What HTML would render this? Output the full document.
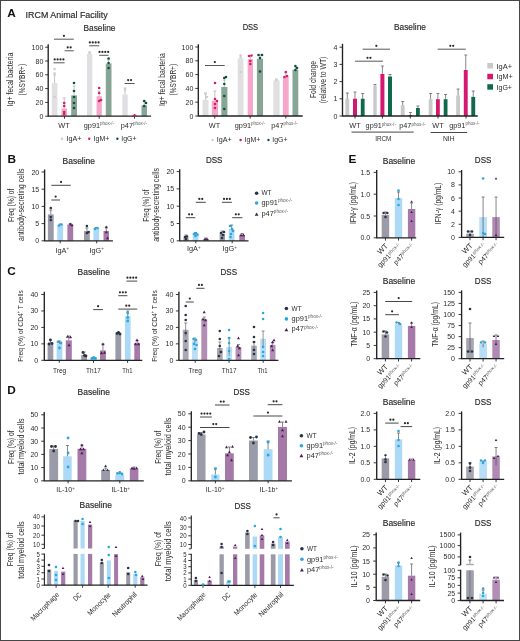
<!DOCTYPE html>
<html><head><meta charset="utf-8"><style>
html,body{margin:0;padding:0;background:#fff;}
svg{display:block;font-family:"Liberation Sans",sans-serif;will-change:transform;}
</style></head><body>
<svg width="520" height="641" viewBox="0 0 520 641">
<rect x="0" y="0" width="520" height="641" fill="#fff"/>
<text x="7.2" y="16.8" font-size="11.8" font-weight="bold" fill="#111">A</text>
<text x="25.6" y="18" font-size="9.4" textLength="82" lengthAdjust="spacingAndGlyphs" fill="#2b2b2b" stroke="#2b2b2b" stroke-width="0.18">IRCM Animal Facility</text>
<text x="99.5" y="30.7" font-size="9.0" text-anchor="middle" textLength="32" lengthAdjust="spacingAndGlyphs" fill="#2b2b2b" stroke="#2b2b2b" stroke-width="0.18">Baseline</text>
<line x1="48.20" y1="44.20" x2="48.20" y2="116.70" stroke="#222" stroke-width="1.35"/>
<line x1="45.20" y1="116.20" x2="48.20" y2="116.20" stroke="#222" stroke-width="0.9"/>
<text x="43.3" y="118.72" font-size="7.0" text-anchor="end" fill="#2b2b2b">0</text>
<line x1="45.20" y1="102.40" x2="48.20" y2="102.40" stroke="#222" stroke-width="0.9"/>
<text x="43.3" y="104.92" font-size="7.0" text-anchor="end" fill="#2b2b2b">20</text>
<line x1="45.20" y1="88.60" x2="48.20" y2="88.60" stroke="#222" stroke-width="0.9"/>
<text x="43.3" y="91.12" font-size="7.0" text-anchor="end" fill="#2b2b2b">40</text>
<line x1="45.20" y1="74.80" x2="48.20" y2="74.80" stroke="#222" stroke-width="0.9"/>
<text x="43.3" y="77.32000000000001" font-size="7.0" text-anchor="end" fill="#2b2b2b">60</text>
<line x1="45.20" y1="61.00" x2="48.20" y2="61.00" stroke="#222" stroke-width="0.9"/>
<text x="43.3" y="63.52000000000001" font-size="7.0" text-anchor="end" fill="#2b2b2b">80</text>
<line x1="45.20" y1="47.20" x2="48.20" y2="47.20" stroke="#222" stroke-width="0.9"/>
<text x="43.3" y="49.720000000000006" font-size="7.0" text-anchor="end" fill="#2b2b2b">100</text>
<rect x="51.80" y="83.00" width="5.60" height="33.20" fill="#e0e0e2"/>
<line x1="54.60" y1="73.00" x2="54.60" y2="83.00" stroke="#aaa" stroke-width="0.7"/>
<line x1="53.10" y1="73.00" x2="56.10" y2="73.00" stroke="#aaa" stroke-width="0.7"/>
<rect x="61.50" y="108.50" width="5.50" height="7.70" fill="#f6a6c9"/>
<line x1="64.25" y1="98.00" x2="64.25" y2="108.50" stroke="#aaa" stroke-width="0.7"/>
<line x1="62.75" y1="98.00" x2="65.75" y2="98.00" stroke="#aaa" stroke-width="0.7"/>
<rect x="71.20" y="95.40" width="5.80" height="20.80" fill="#86a595"/>
<line x1="74.10" y1="86.00" x2="74.10" y2="95.40" stroke="#aaa" stroke-width="0.7"/>
<line x1="72.60" y1="86.00" x2="75.60" y2="86.00" stroke="#aaa" stroke-width="0.7"/>
<rect x="87.00" y="54.00" width="5.30" height="62.20" fill="#e0e0e2"/>
<line x1="89.65" y1="52.00" x2="89.65" y2="54.00" stroke="#aaa" stroke-width="0.7"/>
<line x1="88.15" y1="52.00" x2="91.15" y2="52.00" stroke="#aaa" stroke-width="0.7"/>
<rect x="96.60" y="96.20" width="5.20" height="20.00" fill="#f6a6c9"/>
<line x1="99.20" y1="91.00" x2="99.20" y2="96.20" stroke="#aaa" stroke-width="0.7"/>
<line x1="97.70" y1="91.00" x2="100.70" y2="91.00" stroke="#aaa" stroke-width="0.7"/>
<rect x="105.80" y="63.50" width="5.70" height="52.70" fill="#86a595"/>
<line x1="108.65" y1="60.00" x2="108.65" y2="63.50" stroke="#aaa" stroke-width="0.7"/>
<line x1="107.15" y1="60.00" x2="110.15" y2="60.00" stroke="#aaa" stroke-width="0.7"/>
<rect x="122.30" y="94.60" width="5.40" height="21.60" fill="#e0e0e2"/>
<line x1="125.00" y1="88.00" x2="125.00" y2="94.60" stroke="#aaa" stroke-width="0.7"/>
<line x1="123.50" y1="88.00" x2="126.50" y2="88.00" stroke="#aaa" stroke-width="0.7"/>
<rect x="132.00" y="115.00" width="5.20" height="1.20" fill="#f6a6c9"/>
<rect x="141.50" y="105.40" width="5.50" height="10.80" fill="#86a595"/>
<line x1="144.25" y1="101.00" x2="144.25" y2="105.40" stroke="#aaa" stroke-width="0.7"/>
<line x1="142.75" y1="101.00" x2="145.75" y2="101.00" stroke="#aaa" stroke-width="0.7"/>
<line x1="48.20" y1="116.20" x2="151.00" y2="116.20" stroke="#222" stroke-width="1.3"/>
<line x1="64.50" y1="116.20" x2="64.50" y2="118.70" stroke="#222" stroke-width="0.9"/>
<line x1="99.20" y1="116.20" x2="99.20" y2="118.70" stroke="#222" stroke-width="0.9"/>
<line x1="134.50" y1="116.20" x2="134.50" y2="118.70" stroke="#222" stroke-width="0.9"/>
<circle cx="54.60" cy="69.00" r="1.3" fill="#cfcfd2"/>
<circle cx="54.60" cy="75.00" r="1.3" fill="#cfcfd2"/>
<circle cx="54.60" cy="97.00" r="1.3" fill="#d9c6cc"/>
<circle cx="64.20" cy="103.00" r="1.3" fill="#d81b6a"/>
<circle cx="64.20" cy="106.00" r="1.3" fill="#d81b6a"/>
<circle cx="64.20" cy="112.00" r="1.3" fill="#d81b6a"/>
<circle cx="64.20" cy="114.00" r="1.3" fill="#d81b6a"/>
<circle cx="74.00" cy="83.00" r="1.3" fill="#0e4f3b"/>
<circle cx="74.00" cy="91.00" r="1.3" fill="#0e4f3b"/>
<circle cx="74.00" cy="97.00" r="1.3" fill="#0e4f3b"/>
<circle cx="74.00" cy="103.00" r="1.3" fill="#0e4f3b"/>
<circle cx="74.00" cy="108.00" r="1.3" fill="#0e4f3b"/>
<circle cx="89.60" cy="53.00" r="1.3" fill="#cfcfd2"/>
<circle cx="99.20" cy="88.00" r="1.3" fill="#d81b6a"/>
<circle cx="99.20" cy="93.00" r="1.3" fill="#d81b6a"/>
<circle cx="99.20" cy="101.00" r="1.3" fill="#d81b6a"/>
<circle cx="101.00" cy="100.00" r="1.3" fill="#d81b6a"/>
<circle cx="108.60" cy="58.50" r="1.3" fill="#0e4f3b"/>
<circle cx="108.60" cy="63.00" r="1.3" fill="#0e4f3b"/>
<circle cx="108.60" cy="68.00" r="1.3" fill="#0e4f3b"/>
<circle cx="125.00" cy="90.00" r="1.3" fill="#cfcfd2"/>
<circle cx="134.60" cy="115.30" r="1.3" fill="#d81b6a"/>
<circle cx="144.20" cy="101.00" r="1.3" fill="#0e4f3b"/>
<circle cx="144.20" cy="106.00" r="1.3" fill="#0e4f3b"/>
<circle cx="146.00" cy="103.00" r="1.3" fill="#0e4f3b"/>
<line x1="54.00" y1="39.20" x2="73.80" y2="39.20" stroke="#444" stroke-width="0.9"/>
<circle cx="63.90" cy="35.80" r="1.1" fill="#2a2a2a"/>
<line x1="64.60" y1="50.80" x2="73.80" y2="50.80" stroke="#444" stroke-width="0.9"/>
<circle cx="67.75" cy="47.40" r="1.1" fill="#2a2a2a"/>
<circle cx="70.65" cy="47.40" r="1.1" fill="#2a2a2a"/>
<line x1="53.50" y1="62.80" x2="64.60" y2="62.80" stroke="#444" stroke-width="0.9"/>
<circle cx="54.70" cy="59.40" r="1.1" fill="#2a2a2a"/>
<circle cx="57.60" cy="59.40" r="1.1" fill="#2a2a2a"/>
<circle cx="60.50" cy="59.40" r="1.1" fill="#2a2a2a"/>
<circle cx="63.40" cy="59.40" r="1.1" fill="#2a2a2a"/>
<line x1="89.20" y1="45.80" x2="99.20" y2="45.80" stroke="#444" stroke-width="0.9"/>
<circle cx="89.85" cy="42.40" r="1.1" fill="#2a2a2a"/>
<circle cx="92.75" cy="42.40" r="1.1" fill="#2a2a2a"/>
<circle cx="95.65" cy="42.40" r="1.1" fill="#2a2a2a"/>
<circle cx="98.55" cy="42.40" r="1.1" fill="#2a2a2a"/>
<line x1="99.20" y1="55.30" x2="108.50" y2="55.30" stroke="#444" stroke-width="0.9"/>
<circle cx="99.50" cy="51.90" r="1.1" fill="#2a2a2a"/>
<circle cx="102.40" cy="51.90" r="1.1" fill="#2a2a2a"/>
<circle cx="105.30" cy="51.90" r="1.1" fill="#2a2a2a"/>
<circle cx="108.20" cy="51.90" r="1.1" fill="#2a2a2a"/>
<line x1="124.60" y1="83.50" x2="134.60" y2="83.50" stroke="#444" stroke-width="0.9"/>
<circle cx="128.15" cy="80.10" r="1.1" fill="#2a2a2a"/>
<circle cx="131.05" cy="80.10" r="1.1" fill="#2a2a2a"/>
<text x="64" y="128" font-size="7.3" text-anchor="middle" fill="#2b2b2b">WT</text>
<text x="83.8" y="128" font-size="7.3" fill="#2b2b2b">gp91<tspan font-size="4.53" dy="-2.63" fill="#5a5a5a">phox-/-</tspan></text>
<text x="120.8" y="128" font-size="7.3" fill="#2b2b2b">p47<tspan font-size="4.53" dy="-2.63" fill="#5a5a5a">phox-/-</tspan></text>
<circle cx="62.00" cy="138.80" r="1.2" fill="#cfcfd2"/>
<text x="66.5" y="141.2" font-size="7.3" textLength="15" lengthAdjust="spacingAndGlyphs" fill="#2b2b2b">IgA+</text>
<circle cx="89.20" cy="138.80" r="1.2" fill="#d81b6a"/>
<text x="93.6" y="141.2" font-size="7.3" textLength="15.7" lengthAdjust="spacingAndGlyphs" fill="#2b2b2b">IgM+</text>
<circle cx="117.40" cy="138.80" r="1.2" fill="#0e4f3b"/>
<text x="121.3" y="141.2" font-size="7.3" textLength="15.2" lengthAdjust="spacingAndGlyphs" fill="#2b2b2b">IgG+</text>
<text x="13.4" y="79.5" font-size="8.512" text-anchor="middle" textLength="54" lengthAdjust="spacingAndGlyphs" transform="rotate(-90 13.4 79.5)" fill="#2b2b2b">Ig+ fecal bacteria</text>
<text x="24.8" y="79.7" font-size="8.512" text-anchor="middle" textLength="31.5" lengthAdjust="spacingAndGlyphs" transform="rotate(-90 24.8 79.7)" fill="#2b2b2b">(%SYBR+)</text>
<text x="250.4" y="30.4" font-size="9.0" text-anchor="middle" textLength="15.5" lengthAdjust="spacingAndGlyphs" fill="#2b2b2b" stroke="#2b2b2b" stroke-width="0.18">DSS</text>
<line x1="198.30" y1="44.20" x2="198.30" y2="116.50" stroke="#222" stroke-width="1.35"/>
<line x1="195.30" y1="116.00" x2="198.30" y2="116.00" stroke="#222" stroke-width="0.9"/>
<text x="193.3" y="118.52" font-size="7.0" text-anchor="end" fill="#2b2b2b">0</text>
<line x1="195.30" y1="102.20" x2="198.30" y2="102.20" stroke="#222" stroke-width="0.9"/>
<text x="193.3" y="104.72" font-size="7.0" text-anchor="end" fill="#2b2b2b">20</text>
<line x1="195.30" y1="88.40" x2="198.30" y2="88.40" stroke="#222" stroke-width="0.9"/>
<text x="193.3" y="90.92" font-size="7.0" text-anchor="end" fill="#2b2b2b">40</text>
<line x1="195.30" y1="74.60" x2="198.30" y2="74.60" stroke="#222" stroke-width="0.9"/>
<text x="193.3" y="77.11999999999999" font-size="7.0" text-anchor="end" fill="#2b2b2b">60</text>
<line x1="195.30" y1="60.80" x2="198.30" y2="60.80" stroke="#222" stroke-width="0.9"/>
<text x="193.3" y="63.32000000000001" font-size="7.0" text-anchor="end" fill="#2b2b2b">80</text>
<line x1="195.30" y1="47.00" x2="198.30" y2="47.00" stroke="#222" stroke-width="0.9"/>
<text x="193.3" y="49.52" font-size="7.0" text-anchor="end" fill="#2b2b2b">100</text>
<rect x="202.50" y="99.70" width="6.00" height="16.30" fill="#e0e0e2"/>
<line x1="205.50" y1="93.00" x2="205.50" y2="99.70" stroke="#aaa" stroke-width="0.7"/>
<line x1="204.00" y1="93.00" x2="207.00" y2="93.00" stroke="#aaa" stroke-width="0.7"/>
<rect x="211.80" y="100.80" width="6.20" height="15.20" fill="#f6a6c9"/>
<line x1="214.90" y1="91.00" x2="214.90" y2="100.80" stroke="#aaa" stroke-width="0.7"/>
<line x1="213.40" y1="91.00" x2="216.40" y2="91.00" stroke="#aaa" stroke-width="0.7"/>
<rect x="221.30" y="87.00" width="6.10" height="29.00" fill="#86a595"/>
<line x1="224.35" y1="80.00" x2="224.35" y2="87.00" stroke="#aaa" stroke-width="0.7"/>
<line x1="222.85" y1="80.00" x2="225.85" y2="80.00" stroke="#aaa" stroke-width="0.7"/>
<rect x="237.70" y="58.30" width="5.80" height="57.70" fill="#e0e0e2"/>
<line x1="240.60" y1="55.00" x2="240.60" y2="58.30" stroke="#aaa" stroke-width="0.7"/>
<line x1="239.10" y1="55.00" x2="242.10" y2="55.00" stroke="#aaa" stroke-width="0.7"/>
<rect x="247.70" y="59.20" width="5.30" height="56.80" fill="#f6a6c9"/>
<line x1="250.35" y1="56.00" x2="250.35" y2="59.20" stroke="#aaa" stroke-width="0.7"/>
<line x1="248.85" y1="56.00" x2="251.85" y2="56.00" stroke="#aaa" stroke-width="0.7"/>
<rect x="256.90" y="58.80" width="6.10" height="57.20" fill="#86a595"/>
<line x1="259.95" y1="55.00" x2="259.95" y2="58.80" stroke="#aaa" stroke-width="0.7"/>
<line x1="258.45" y1="55.00" x2="261.45" y2="55.00" stroke="#aaa" stroke-width="0.7"/>
<rect x="273.30" y="80.40" width="6.30" height="35.60" fill="#e0e0e2"/>
<line x1="276.45" y1="79.00" x2="276.45" y2="80.40" stroke="#aaa" stroke-width="0.7"/>
<line x1="274.95" y1="79.00" x2="277.95" y2="79.00" stroke="#aaa" stroke-width="0.7"/>
<rect x="282.90" y="76.50" width="5.80" height="39.50" fill="#f6a6c9"/>
<line x1="285.80" y1="73.00" x2="285.80" y2="76.50" stroke="#aaa" stroke-width="0.7"/>
<line x1="284.30" y1="73.00" x2="287.30" y2="73.00" stroke="#aaa" stroke-width="0.7"/>
<rect x="292.50" y="69.80" width="5.80" height="46.20" fill="#86a595"/>
<line x1="295.40" y1="67.00" x2="295.40" y2="69.80" stroke="#aaa" stroke-width="0.7"/>
<line x1="293.90" y1="67.00" x2="296.90" y2="67.00" stroke="#aaa" stroke-width="0.7"/>
<line x1="198.30" y1="116.00" x2="302.70" y2="116.00" stroke="#222" stroke-width="1.3"/>
<line x1="214.80" y1="116.00" x2="214.80" y2="118.50" stroke="#222" stroke-width="0.9"/>
<line x1="250.20" y1="116.00" x2="250.20" y2="118.50" stroke="#222" stroke-width="0.9"/>
<line x1="285.80" y1="116.00" x2="285.80" y2="118.50" stroke="#222" stroke-width="0.9"/>
<circle cx="205.50" cy="94.00" r="1.3" fill="#cfcfd2"/>
<circle cx="207.00" cy="97.00" r="1.3" fill="#cfcfd2"/>
<circle cx="215.00" cy="83.00" r="1.3" fill="#d81b6a"/>
<circle cx="215.00" cy="99.00" r="1.3" fill="#d81b6a"/>
<circle cx="215.00" cy="104.00" r="1.3" fill="#d81b6a"/>
<circle cx="215.00" cy="108.00" r="1.3" fill="#d81b6a"/>
<circle cx="217.00" cy="101.00" r="1.3" fill="#d81b6a"/>
<circle cx="224.30" cy="78.00" r="1.3" fill="#0e4f3b"/>
<circle cx="224.30" cy="84.00" r="1.3" fill="#0e4f3b"/>
<circle cx="224.30" cy="96.00" r="1.3" fill="#0e4f3b"/>
<circle cx="224.30" cy="109.00" r="1.3" fill="#0e4f3b"/>
<circle cx="226.00" cy="77.00" r="1.3" fill="#0e4f3b"/>
<circle cx="240.60" cy="57.00" r="1.3" fill="#cfcfd2"/>
<circle cx="240.60" cy="72.00" r="1.3" fill="#cfcfd2"/>
<circle cx="249.00" cy="56.00" r="1.3" fill="#d81b6a"/>
<circle cx="251.50" cy="55.50" r="1.3" fill="#d81b6a"/>
<circle cx="250.30" cy="61.00" r="1.3" fill="#d81b6a"/>
<circle cx="250.30" cy="64.00" r="1.3" fill="#d81b6a"/>
<circle cx="258.50" cy="55.00" r="1.3" fill="#0e4f3b"/>
<circle cx="262.00" cy="55.00" r="1.3" fill="#0e4f3b"/>
<circle cx="260.00" cy="58.00" r="1.3" fill="#0e4f3b"/>
<circle cx="260.00" cy="71.50" r="1.3" fill="#0e4f3b"/>
<circle cx="276.40" cy="80.00" r="1.3" fill="#cfcfd2"/>
<circle cx="285.80" cy="72.00" r="1.3" fill="#d81b6a"/>
<circle cx="284.50" cy="77.00" r="1.3" fill="#d81b6a"/>
<circle cx="287.00" cy="76.00" r="1.3" fill="#d81b6a"/>
<circle cx="295.40" cy="66.00" r="1.3" fill="#0e4f3b"/>
<circle cx="297.00" cy="68.00" r="1.3" fill="#0e4f3b"/>
<circle cx="295.40" cy="70.00" r="1.3" fill="#0e4f3b"/>
<line x1="205.00" y1="65.50" x2="224.70" y2="65.50" stroke="#444" stroke-width="0.9"/>
<circle cx="214.85" cy="62.10" r="1.1" fill="#2a2a2a"/>
<text x="214.5" y="127.5" font-size="7.3" text-anchor="middle" fill="#2b2b2b">WT</text>
<text x="234.8" y="127.5" font-size="7.3" fill="#2b2b2b">gp91<tspan font-size="4.53" dy="-2.63" fill="#5a5a5a">phox-/-</tspan></text>
<text x="271.3" y="127.5" font-size="7.3" fill="#2b2b2b">p47<tspan font-size="4.53" dy="-2.63" fill="#5a5a5a">phox-/-</tspan></text>
<circle cx="212.50" cy="140.00" r="1.2" fill="#cfcfd2"/>
<text x="216.8" y="142.4" font-size="7.3" textLength="15" lengthAdjust="spacingAndGlyphs" fill="#2b2b2b">IgA+</text>
<circle cx="240.60" cy="140.00" r="1.2" fill="#d81b6a"/>
<text x="244.6" y="142.4" font-size="7.3" textLength="15.7" lengthAdjust="spacingAndGlyphs" fill="#2b2b2b">IgM+</text>
<circle cx="268.50" cy="140.00" r="1.2" fill="#0e4f3b"/>
<text x="272.3" y="142.4" font-size="7.3" textLength="15.2" lengthAdjust="spacingAndGlyphs" fill="#2b2b2b">IgG+</text>
<text x="164.6" y="79.6" font-size="8.512" text-anchor="middle" textLength="53" lengthAdjust="spacingAndGlyphs" transform="rotate(-90 164.6 79.6)" fill="#2b2b2b">Ig+ fecal bacteria</text>
<text x="175.6" y="79.7" font-size="8.512" text-anchor="middle" textLength="31.5" lengthAdjust="spacingAndGlyphs" transform="rotate(-90 175.6 79.7)" fill="#2b2b2b">(%SYBR+)</text>
<text x="410" y="30.4" font-size="9.0" text-anchor="middle" textLength="32" lengthAdjust="spacingAndGlyphs" fill="#2b2b2b" stroke="#2b2b2b" stroke-width="0.18">Baseline</text>
<line x1="342.50" y1="43.80" x2="342.50" y2="116.50" stroke="#222" stroke-width="1.35"/>
<line x1="339.50" y1="116.00" x2="342.50" y2="116.00" stroke="#222" stroke-width="0.9"/>
<text x="337.3" y="118.52" font-size="7.0" text-anchor="end" fill="#2b2b2b">0</text>
<line x1="339.50" y1="98.80" x2="342.50" y2="98.80" stroke="#222" stroke-width="0.9"/>
<text x="337.3" y="101.32" font-size="7.0" text-anchor="end" fill="#2b2b2b">1</text>
<line x1="339.50" y1="81.60" x2="342.50" y2="81.60" stroke="#222" stroke-width="0.9"/>
<text x="337.3" y="84.11999999999999" font-size="7.0" text-anchor="end" fill="#2b2b2b">2</text>
<line x1="339.50" y1="64.40" x2="342.50" y2="64.40" stroke="#222" stroke-width="0.9"/>
<text x="337.3" y="66.92" font-size="7.0" text-anchor="end" fill="#2b2b2b">3</text>
<line x1="339.50" y1="47.20" x2="342.50" y2="47.20" stroke="#222" stroke-width="0.9"/>
<text x="337.3" y="49.720000000000006" font-size="7.0" text-anchor="end" fill="#2b2b2b">4</text>
<rect x="345.40" y="98.70" width="3.80" height="17.30" fill="#c9c9c9"/>
<line x1="347.30" y1="93.00" x2="347.30" y2="98.70" stroke="#555" stroke-width="0.7"/>
<line x1="345.80" y1="93.00" x2="348.80" y2="93.00" stroke="#555" stroke-width="0.7"/>
<rect x="353.00" y="98.70" width="4.00" height="17.30" fill="#d4176f"/>
<line x1="355.00" y1="92.00" x2="355.00" y2="98.70" stroke="#555" stroke-width="0.7"/>
<line x1="353.50" y1="92.00" x2="356.50" y2="92.00" stroke="#555" stroke-width="0.7"/>
<rect x="360.80" y="98.70" width="3.80" height="17.30" fill="#0f6a4d"/>
<line x1="362.70" y1="93.50" x2="362.70" y2="98.70" stroke="#555" stroke-width="0.7"/>
<line x1="361.20" y1="93.50" x2="364.20" y2="93.50" stroke="#555" stroke-width="0.7"/>
<rect x="373.30" y="85.80" width="3.40" height="30.20" fill="#c9c9c9"/>
<line x1="375.00" y1="84.50" x2="375.00" y2="85.80" stroke="#555" stroke-width="0.7"/>
<line x1="373.50" y1="84.50" x2="376.50" y2="84.50" stroke="#555" stroke-width="0.7"/>
<rect x="380.40" y="74.00" width="4.00" height="42.00" fill="#d4176f"/>
<line x1="382.40" y1="66.00" x2="382.40" y2="74.00" stroke="#555" stroke-width="0.7"/>
<line x1="380.90" y1="66.00" x2="383.90" y2="66.00" stroke="#555" stroke-width="0.7"/>
<rect x="388.00" y="76.50" width="4.00" height="39.50" fill="#0f6a4d"/>
<line x1="390.00" y1="74.50" x2="390.00" y2="76.50" stroke="#555" stroke-width="0.7"/>
<line x1="388.50" y1="74.50" x2="391.50" y2="74.50" stroke="#555" stroke-width="0.7"/>
<rect x="400.80" y="105.20" width="3.80" height="10.80" fill="#c9c9c9"/>
<line x1="402.70" y1="101.50" x2="402.70" y2="105.20" stroke="#555" stroke-width="0.7"/>
<line x1="401.20" y1="101.50" x2="404.20" y2="101.50" stroke="#555" stroke-width="0.7"/>
<rect x="408.50" y="115.00" width="3.80" height="1.00" fill="#d4176f"/>
<line x1="410.40" y1="112.50" x2="410.40" y2="115.00" stroke="#555" stroke-width="0.7"/>
<line x1="408.90" y1="112.50" x2="411.90" y2="112.50" stroke="#555" stroke-width="0.7"/>
<rect x="416.00" y="108.00" width="3.80" height="8.00" fill="#0f6a4d"/>
<line x1="417.90" y1="106.00" x2="417.90" y2="108.00" stroke="#555" stroke-width="0.7"/>
<line x1="416.40" y1="106.00" x2="419.40" y2="106.00" stroke="#555" stroke-width="0.7"/>
<rect x="428.70" y="99.20" width="3.80" height="16.80" fill="#c9c9c9"/>
<line x1="430.60" y1="93.50" x2="430.60" y2="99.20" stroke="#555" stroke-width="0.7"/>
<line x1="429.10" y1="93.50" x2="432.10" y2="93.50" stroke="#555" stroke-width="0.7"/>
<rect x="436.00" y="99.20" width="3.80" height="16.80" fill="#d4176f"/>
<line x1="437.90" y1="93.50" x2="437.90" y2="99.20" stroke="#555" stroke-width="0.7"/>
<line x1="436.40" y1="93.50" x2="439.40" y2="93.50" stroke="#555" stroke-width="0.7"/>
<rect x="443.70" y="99.20" width="3.80" height="16.80" fill="#0f6a4d"/>
<line x1="445.60" y1="94.50" x2="445.60" y2="99.20" stroke="#555" stroke-width="0.7"/>
<line x1="444.10" y1="94.50" x2="447.10" y2="94.50" stroke="#555" stroke-width="0.7"/>
<rect x="456.20" y="95.40" width="3.80" height="20.60" fill="#c9c9c9"/>
<line x1="458.10" y1="89.00" x2="458.10" y2="95.40" stroke="#555" stroke-width="0.7"/>
<line x1="456.60" y1="89.00" x2="459.60" y2="89.00" stroke="#555" stroke-width="0.7"/>
<rect x="463.80" y="70.00" width="3.90" height="46.00" fill="#d4176f"/>
<line x1="465.75" y1="55.00" x2="465.75" y2="70.00" stroke="#555" stroke-width="0.7"/>
<line x1="464.25" y1="55.00" x2="467.25" y2="55.00" stroke="#555" stroke-width="0.7"/>
<rect x="471.30" y="96.90" width="3.90" height="19.10" fill="#0f6a4d"/>
<line x1="473.25" y1="91.00" x2="473.25" y2="96.90" stroke="#555" stroke-width="0.7"/>
<line x1="471.75" y1="91.00" x2="474.75" y2="91.00" stroke="#555" stroke-width="0.7"/>
<line x1="342.50" y1="116.00" x2="477.70" y2="116.00" stroke="#222" stroke-width="1.3"/>
<line x1="355.00" y1="116.00" x2="355.00" y2="118.50" stroke="#222" stroke-width="0.9"/>
<line x1="382.40" y1="116.00" x2="382.40" y2="118.50" stroke="#222" stroke-width="0.9"/>
<line x1="410.30" y1="116.00" x2="410.30" y2="118.50" stroke="#222" stroke-width="0.9"/>
<line x1="438.00" y1="116.00" x2="438.00" y2="118.50" stroke="#222" stroke-width="0.9"/>
<line x1="466.00" y1="116.00" x2="466.00" y2="118.50" stroke="#222" stroke-width="0.9"/>
<line x1="355.00" y1="61.20" x2="382.90" y2="61.20" stroke="#444" stroke-width="0.9"/>
<circle cx="367.50" cy="57.80" r="1.1" fill="#2a2a2a"/>
<circle cx="370.40" cy="57.80" r="1.1" fill="#2a2a2a"/>
<line x1="362.70" y1="49.20" x2="390.00" y2="49.20" stroke="#444" stroke-width="0.9"/>
<circle cx="376.35" cy="45.80" r="1.1" fill="#2a2a2a"/>
<line x1="437.70" y1="49.20" x2="465.80" y2="49.20" stroke="#444" stroke-width="0.9"/>
<circle cx="450.30" cy="45.80" r="1.1" fill="#2a2a2a"/>
<circle cx="453.20" cy="45.80" r="1.1" fill="#2a2a2a"/>
<text x="355" y="128.3" font-size="7.3" text-anchor="middle" fill="#2b2b2b">WT</text>
<text x="365.6" y="128.3" font-size="7.3" fill="#2b2b2b">gp91<tspan font-size="4.53" dy="-2.63" fill="#5a5a5a">phox-/-</tspan></text>
<text x="399.2" y="128.3" font-size="7.3" fill="#2b2b2b">p47<tspan font-size="4.53" dy="-2.63" fill="#5a5a5a">phox-/-</tspan></text>
<text x="438" y="127.5" font-size="7.3" text-anchor="middle" fill="#2b2b2b">WT</text>
<text x="449.2" y="127.5" font-size="7.3" fill="#2b2b2b">gp91<tspan font-size="4.53" dy="-2.63" fill="#5a5a5a">phox-/-</tspan></text>
<line x1="351.50" y1="132.10" x2="413.70" y2="132.10" stroke="#333" stroke-width="0.9"/>
<text x="383.3" y="140.8" font-size="7.3" text-anchor="middle" textLength="16.3" lengthAdjust="spacingAndGlyphs" fill="#2b2b2b">IRCM</text>
<line x1="430.60" y1="132.50" x2="467.10" y2="132.50" stroke="#333" stroke-width="0.9"/>
<text x="448.8" y="141" font-size="7.3" text-anchor="middle" textLength="11.6" lengthAdjust="spacingAndGlyphs" fill="#2b2b2b">NIH</text>
<text x="316.4" y="79.5" font-size="8.512" text-anchor="middle" textLength="37.2" lengthAdjust="spacingAndGlyphs" transform="rotate(-90 316.4 79.5)" fill="#2b2b2b">Fold change</text>
<text x="326.2" y="80" font-size="8.512" text-anchor="middle" textLength="46.7" lengthAdjust="spacingAndGlyphs" transform="rotate(-90 326.2 80)" fill="#2b2b2b">(relative to WT)</text>
<rect x="487.30" y="63.00" width="5.70" height="5.50" fill="#c9c9c9"/>
<text x="496.5" y="68.5" font-size="7.3" textLength="15.5" lengthAdjust="spacingAndGlyphs" fill="#2b2b2b">IgA+</text>
<rect x="487.30" y="73.80" width="5.70" height="5.50" fill="#d4176f"/>
<text x="496.5" y="79.2" font-size="7.3" textLength="16.3" lengthAdjust="spacingAndGlyphs" fill="#2b2b2b">IgM+</text>
<rect x="487.30" y="84.20" width="5.70" height="5.50" fill="#0f6a4d"/>
<text x="496.5" y="89.6" font-size="7.3" textLength="15.5" lengthAdjust="spacingAndGlyphs" fill="#2b2b2b">IgG+</text>
<text x="7.5" y="162.9" font-size="11.8" font-weight="bold" fill="#111">B</text>
<text x="78.8" y="163.8" font-size="9.0" text-anchor="middle" textLength="32.5" lengthAdjust="spacingAndGlyphs" fill="#2b2b2b" stroke="#2b2b2b" stroke-width="0.18">Baseline</text>
<line x1="44.60" y1="169.50" x2="44.60" y2="241.30" stroke="#222" stroke-width="1.35"/>
<line x1="41.60" y1="240.80" x2="44.60" y2="240.80" stroke="#222" stroke-width="0.9"/>
<text x="39.2" y="243.32000000000002" font-size="7.0" text-anchor="end" fill="#2b2b2b">0</text>
<line x1="41.60" y1="223.60" x2="44.60" y2="223.60" stroke="#222" stroke-width="0.9"/>
<text x="39.2" y="226.12000000000003" font-size="7.0" text-anchor="end" fill="#2b2b2b">5</text>
<line x1="41.60" y1="206.40" x2="44.60" y2="206.40" stroke="#222" stroke-width="0.9"/>
<text x="39.2" y="208.92000000000002" font-size="7.0" text-anchor="end" fill="#2b2b2b">10</text>
<line x1="41.60" y1="189.20" x2="44.60" y2="189.20" stroke="#222" stroke-width="0.9"/>
<text x="39.2" y="191.72000000000003" font-size="7.0" text-anchor="end" fill="#2b2b2b">15</text>
<line x1="41.60" y1="172.00" x2="44.60" y2="172.00" stroke="#222" stroke-width="0.9"/>
<text x="39.2" y="174.52" font-size="7.0" text-anchor="end" fill="#2b2b2b">20</text>
<rect x="47.90" y="214.40" width="5.80" height="26.40" fill="#9a9aa8"/>
<line x1="50.80" y1="210.00" x2="50.80" y2="214.40" stroke="#555" stroke-width="0.7"/>
<line x1="49.30" y1="210.00" x2="52.30" y2="210.00" stroke="#555" stroke-width="0.7"/>
<rect x="57.30" y="225.20" width="5.80" height="15.60" fill="#acd9f5"/>
<line x1="60.20" y1="224.00" x2="60.20" y2="225.20" stroke="#555" stroke-width="0.7"/>
<line x1="58.70" y1="224.00" x2="61.70" y2="224.00" stroke="#555" stroke-width="0.7"/>
<rect x="67.40" y="224.50" width="5.80" height="16.30" fill="#a57aa8"/>
<line x1="70.30" y1="223.50" x2="70.30" y2="224.50" stroke="#555" stroke-width="0.7"/>
<line x1="68.80" y1="223.50" x2="71.80" y2="223.50" stroke="#555" stroke-width="0.7"/>
<rect x="84.00" y="231.00" width="5.80" height="9.80" fill="#9a9aa8"/>
<line x1="86.90" y1="228.00" x2="86.90" y2="231.00" stroke="#555" stroke-width="0.7"/>
<line x1="85.40" y1="228.00" x2="88.40" y2="228.00" stroke="#555" stroke-width="0.7"/>
<rect x="93.40" y="228.10" width="5.80" height="12.70" fill="#acd9f5"/>
<line x1="96.30" y1="227.50" x2="96.30" y2="228.10" stroke="#555" stroke-width="0.7"/>
<line x1="94.80" y1="227.50" x2="97.80" y2="227.50" stroke="#555" stroke-width="0.7"/>
<rect x="103.50" y="231.00" width="5.50" height="9.80" fill="#a57aa8"/>
<line x1="106.25" y1="227.00" x2="106.25" y2="231.00" stroke="#555" stroke-width="0.7"/>
<line x1="104.75" y1="227.00" x2="107.75" y2="227.00" stroke="#555" stroke-width="0.7"/>
<line x1="44.60" y1="240.80" x2="112.90" y2="240.80" stroke="#222" stroke-width="1.3"/>
<line x1="60.20" y1="240.80" x2="60.20" y2="243.30" stroke="#222" stroke-width="0.9"/>
<line x1="96.70" y1="240.80" x2="96.70" y2="243.30" stroke="#222" stroke-width="0.9"/>
<circle cx="50.80" cy="208.00" r="1.3" fill="#2a3342"/>
<circle cx="50.80" cy="217.00" r="1.3" fill="#2a3342"/>
<circle cx="50.80" cy="220.00" r="1.3" fill="#2a3342"/>
<circle cx="59.00" cy="225.50" r="1.3" fill="#2aa7de"/>
<circle cx="61.50" cy="224.50" r="1.3" fill="#2aa7de"/>
<path d="M70.30 222.50L71.80 225.20L68.80 225.20Z" fill="#4b1d55"/>
<path d="M72.00 223.50L73.50 226.20L70.50 226.20Z" fill="#4b1d55"/>
<circle cx="86.90" cy="226.00" r="1.3" fill="#2a3342"/>
<circle cx="86.90" cy="233.00" r="1.3" fill="#2a3342"/>
<circle cx="88.50" cy="232.00" r="1.3" fill="#2a3342"/>
<circle cx="95.00" cy="229.00" r="1.3" fill="#2aa7de"/>
<circle cx="97.50" cy="228.00" r="1.3" fill="#2aa7de"/>
<path d="M106.30 225.50L107.80 228.20L104.80 228.20Z" fill="#4b1d55"/>
<path d="M106.30 230.50L107.80 233.20L104.80 233.20Z" fill="#4b1d55"/>
<path d="M107.50 236.50L109.00 239.20L106.00 239.20Z" fill="#4b1d55"/>
<line x1="51.30" y1="185.30" x2="70.80" y2="185.30" stroke="#333" stroke-width="0.9"/>
<circle cx="61.05" cy="181.90" r="1.1" fill="#2a2a2a"/>
<line x1="51.30" y1="200.00" x2="60.00" y2="200.00" stroke="#333" stroke-width="0.9"/>
<circle cx="55.65" cy="196.60" r="1.1" fill="#2a2a2a"/>
<text x="55.5" y="252.5" font-size="7.3" fill="#2b2b2b">IgA<tspan font-size="4.50" dy="-2.63" fill="#5a5a5a">+</tspan></text>
<text x="89.5" y="252.5" font-size="7.3" fill="#2b2b2b">IgG<tspan font-size="4.50" dy="-2.63" fill="#5a5a5a">+</tspan></text>
<text x="14.3" y="205.3" font-size="8.288000000000002" text-anchor="middle" textLength="33.4" lengthAdjust="spacingAndGlyphs" transform="rotate(-90 14.3 205.3)" fill="#2b2b2b">Freq (%) of</text>
<text x="24.3" y="204.7" font-size="8.288000000000002" text-anchor="middle" textLength="72.4" lengthAdjust="spacingAndGlyphs" transform="rotate(-90 24.3 204.7)" fill="#2b2b2b">antibody-secreting cells</text>
<text x="214.2" y="163.3" font-size="9.0" text-anchor="middle" textLength="16.5" lengthAdjust="spacingAndGlyphs" fill="#2b2b2b" stroke="#2b2b2b" stroke-width="0.18">DSS</text>
<line x1="179.70" y1="169.20" x2="179.70" y2="241.30" stroke="#222" stroke-width="1.35"/>
<line x1="176.70" y1="240.80" x2="179.70" y2="240.80" stroke="#222" stroke-width="0.9"/>
<text x="174.2" y="243.32000000000002" font-size="7.0" text-anchor="end" fill="#2b2b2b">0</text>
<line x1="176.70" y1="223.50" x2="179.70" y2="223.50" stroke="#222" stroke-width="0.9"/>
<text x="174.2" y="226.02" font-size="7.0" text-anchor="end" fill="#2b2b2b">5</text>
<line x1="176.70" y1="206.20" x2="179.70" y2="206.20" stroke="#222" stroke-width="0.9"/>
<text x="174.2" y="208.72000000000003" font-size="7.0" text-anchor="end" fill="#2b2b2b">10</text>
<line x1="176.70" y1="188.90" x2="179.70" y2="188.90" stroke="#222" stroke-width="0.9"/>
<text x="174.2" y="191.42000000000002" font-size="7.0" text-anchor="end" fill="#2b2b2b">15</text>
<line x1="176.70" y1="171.60" x2="179.70" y2="171.60" stroke="#222" stroke-width="0.9"/>
<text x="174.2" y="174.12000000000003" font-size="7.0" text-anchor="end" fill="#2b2b2b">20</text>
<rect x="183.50" y="237.50" width="5.10" height="3.30" fill="#9a9aa8"/>
<line x1="186.05" y1="235.00" x2="186.05" y2="237.50" stroke="#555" stroke-width="0.7"/>
<line x1="184.55" y1="235.00" x2="187.55" y2="235.00" stroke="#555" stroke-width="0.7"/>
<rect x="192.70" y="234.00" width="5.80" height="6.80" fill="#acd9f5"/>
<line x1="195.60" y1="232.50" x2="195.60" y2="234.00" stroke="#555" stroke-width="0.7"/>
<line x1="194.10" y1="232.50" x2="197.10" y2="232.50" stroke="#555" stroke-width="0.7"/>
<rect x="203.30" y="239.00" width="5.50" height="1.80" fill="#a57aa8"/>
<line x1="206.05" y1="238.00" x2="206.05" y2="239.00" stroke="#555" stroke-width="0.7"/>
<line x1="204.55" y1="238.00" x2="207.55" y2="238.00" stroke="#555" stroke-width="0.7"/>
<rect x="219.60" y="234.00" width="5.40" height="6.80" fill="#9a9aa8"/>
<line x1="222.30" y1="231.00" x2="222.30" y2="234.00" stroke="#555" stroke-width="0.7"/>
<line x1="220.80" y1="231.00" x2="223.80" y2="231.00" stroke="#555" stroke-width="0.7"/>
<rect x="228.80" y="229.00" width="5.70" height="11.80" fill="#acd9f5"/>
<line x1="231.65" y1="225.00" x2="231.65" y2="229.00" stroke="#555" stroke-width="0.7"/>
<line x1="230.15" y1="225.00" x2="233.15" y2="225.00" stroke="#555" stroke-width="0.7"/>
<rect x="239.30" y="235.00" width="5.70" height="5.80" fill="#a57aa8"/>
<line x1="242.15" y1="233.50" x2="242.15" y2="235.00" stroke="#555" stroke-width="0.7"/>
<line x1="240.65" y1="233.50" x2="243.65" y2="233.50" stroke="#555" stroke-width="0.7"/>
<line x1="179.70" y1="240.80" x2="248.50" y2="240.80" stroke="#222" stroke-width="1.3"/>
<line x1="195.80" y1="240.80" x2="195.80" y2="243.30" stroke="#222" stroke-width="0.9"/>
<line x1="232.20" y1="240.80" x2="232.20" y2="243.30" stroke="#222" stroke-width="0.9"/>
<circle cx="185.00" cy="237.00" r="1.3" fill="#2a3342"/>
<circle cx="186.00" cy="239.00" r="1.3" fill="#2a3342"/>
<circle cx="187.00" cy="236.50" r="1.3" fill="#2a3342"/>
<circle cx="194.00" cy="234.00" r="1.3" fill="#2aa7de"/>
<circle cx="196.00" cy="233.50" r="1.3" fill="#2aa7de"/>
<circle cx="197.50" cy="234.50" r="1.3" fill="#2aa7de"/>
<circle cx="195.50" cy="236.00" r="1.3" fill="#2aa7de"/>
<path d="M205.00 237.50L206.50 240.20L203.50 240.20Z" fill="#4b1d55"/>
<path d="M207.00 237.50L208.50 240.20L205.50 240.20Z" fill="#4b1d55"/>
<circle cx="221.00" cy="233.00" r="1.3" fill="#2a3342"/>
<circle cx="223.00" cy="235.00" r="1.3" fill="#2a3342"/>
<circle cx="222.00" cy="238.00" r="1.3" fill="#2a3342"/>
<circle cx="224.00" cy="232.00" r="1.3" fill="#2a3342"/>
<circle cx="230.00" cy="226.00" r="1.3" fill="#2aa7de"/>
<circle cx="232.00" cy="229.00" r="1.3" fill="#2aa7de"/>
<circle cx="233.00" cy="231.00" r="1.3" fill="#2aa7de"/>
<circle cx="231.00" cy="234.00" r="1.3" fill="#2aa7de"/>
<circle cx="230.50" cy="237.00" r="1.3" fill="#2aa7de"/>
<path d="M241.00 233.50L242.50 236.20L239.50 236.20Z" fill="#4b1d55"/>
<path d="M243.50 233.50L245.00 236.20L242.00 236.20Z" fill="#4b1d55"/>
<line x1="185.80" y1="217.70" x2="195.30" y2="217.70" stroke="#333" stroke-width="0.9"/>
<circle cx="189.10" cy="214.30" r="1.1" fill="#2a2a2a"/>
<circle cx="192.00" cy="214.30" r="1.1" fill="#2a2a2a"/>
<line x1="195.80" y1="202.30" x2="205.80" y2="202.30" stroke="#333" stroke-width="0.9"/>
<circle cx="199.35" cy="198.90" r="1.1" fill="#2a2a2a"/>
<circle cx="202.25" cy="198.90" r="1.1" fill="#2a2a2a"/>
<line x1="221.90" y1="202.30" x2="231.90" y2="202.30" stroke="#333" stroke-width="0.9"/>
<circle cx="224.00" cy="198.90" r="1.1" fill="#2a2a2a"/>
<circle cx="226.90" cy="198.90" r="1.1" fill="#2a2a2a"/>
<circle cx="229.80" cy="198.90" r="1.1" fill="#2a2a2a"/>
<line x1="232.20" y1="217.70" x2="242.40" y2="217.70" stroke="#333" stroke-width="0.9"/>
<circle cx="235.85" cy="214.30" r="1.1" fill="#2a2a2a"/>
<circle cx="238.75" cy="214.30" r="1.1" fill="#2a2a2a"/>
<text x="187" y="251.3" font-size="7.3" fill="#2b2b2b">IgA<tspan font-size="4.50" dy="-2.63" fill="#5a5a5a">+</tspan></text>
<text x="222.5" y="251.3" font-size="7.3" fill="#2b2b2b">IgG<tspan font-size="4.50" dy="-2.63" fill="#5a5a5a">+</tspan></text>
<text x="149.2" y="205.6" font-size="8.288000000000002" text-anchor="middle" textLength="32.2" lengthAdjust="spacingAndGlyphs" transform="rotate(-90 149.2 205.6)" fill="#2b2b2b">Freq (%) of</text>
<text x="159.1" y="204.9" font-size="8.288000000000002" text-anchor="middle" textLength="73.8" lengthAdjust="spacingAndGlyphs" transform="rotate(-90 159.1 204.9)" fill="#2b2b2b">antibody-secreting cells</text>
<circle cx="256.60" cy="193.20" r="1.8" fill="#2a3342"/>
<text x="261.5" y="195" font-size="7.4" textLength="10" lengthAdjust="spacingAndGlyphs" fill="#2b2b2b">WT</text>
<circle cx="256.60" cy="203.00" r="1.8" fill="#2aa7de"/>
<text x="261.5" y="205" font-size="7.4" fill="#2b2b2b">gp91<tspan font-size="4.59" dy="-2.66" fill="#5a5a5a">phox-/-</tspan></text>
<path d="M256.60 212.40L258.50 215.82L254.70 215.82Z" fill="#4b1d55"/>
<text x="261.5" y="215.6" font-size="7.4" fill="#2b2b2b">p47<tspan font-size="4.59" dy="-2.66" fill="#5a5a5a">phox-/-</tspan></text>
<text x="7.2" y="274.5" font-size="11.8" font-weight="bold" fill="#111">C</text>
<text x="93.8" y="275" font-size="9.0" text-anchor="middle" textLength="32.5" lengthAdjust="spacingAndGlyphs" fill="#2b2b2b" stroke="#2b2b2b" stroke-width="0.18">Baseline</text>
<line x1="44.30" y1="291.70" x2="44.30" y2="360.80" stroke="#222" stroke-width="1.35"/>
<line x1="41.30" y1="360.30" x2="44.30" y2="360.30" stroke="#222" stroke-width="0.9"/>
<text x="38.2" y="362.82" font-size="7.0" text-anchor="end" fill="#2b2b2b">0</text>
<line x1="41.30" y1="343.85" x2="44.30" y2="343.85" stroke="#222" stroke-width="0.9"/>
<text x="38.2" y="346.37" font-size="7.0" text-anchor="end" fill="#2b2b2b">10</text>
<line x1="41.30" y1="327.40" x2="44.30" y2="327.40" stroke="#222" stroke-width="0.9"/>
<text x="38.2" y="329.92" font-size="7.0" text-anchor="end" fill="#2b2b2b">20</text>
<line x1="41.30" y1="310.95" x2="44.30" y2="310.95" stroke="#222" stroke-width="0.9"/>
<text x="38.2" y="313.46999999999997" font-size="7.0" text-anchor="end" fill="#2b2b2b">30</text>
<line x1="41.30" y1="294.50" x2="44.30" y2="294.50" stroke="#222" stroke-width="0.9"/>
<text x="38.2" y="297.02" font-size="7.0" text-anchor="end" fill="#2b2b2b">40</text>
<rect x="47.60" y="343.50" width="5.70" height="16.80" fill="#9a9aa8"/>
<line x1="50.45" y1="340.00" x2="50.45" y2="343.50" stroke="#555" stroke-width="0.7"/>
<line x1="48.95" y1="340.00" x2="51.95" y2="340.00" stroke="#555" stroke-width="0.7"/>
<rect x="56.60" y="344.00" width="5.80" height="16.30" fill="#acd9f5"/>
<line x1="59.50" y1="341.00" x2="59.50" y2="344.00" stroke="#555" stroke-width="0.7"/>
<line x1="58.00" y1="341.00" x2="61.00" y2="341.00" stroke="#555" stroke-width="0.7"/>
<rect x="65.80" y="340.40" width="6.00" height="19.90" fill="#a57aa8"/>
<line x1="68.80" y1="336.00" x2="68.80" y2="340.40" stroke="#555" stroke-width="0.7"/>
<line x1="67.30" y1="336.00" x2="70.30" y2="336.00" stroke="#555" stroke-width="0.7"/>
<rect x="81.20" y="355.00" width="5.80" height="5.30" fill="#9a9aa8"/>
<line x1="84.10" y1="352.00" x2="84.10" y2="355.00" stroke="#555" stroke-width="0.7"/>
<line x1="82.60" y1="352.00" x2="85.60" y2="352.00" stroke="#555" stroke-width="0.7"/>
<rect x="90.50" y="358.00" width="5.80" height="2.30" fill="#acd9f5"/>
<line x1="93.40" y1="357.00" x2="93.40" y2="358.00" stroke="#555" stroke-width="0.7"/>
<line x1="91.90" y1="357.00" x2="94.90" y2="357.00" stroke="#555" stroke-width="0.7"/>
<rect x="100.00" y="350.40" width="5.90" height="9.90" fill="#a57aa8"/>
<line x1="102.95" y1="344.00" x2="102.95" y2="350.40" stroke="#555" stroke-width="0.7"/>
<line x1="101.45" y1="344.00" x2="104.45" y2="344.00" stroke="#555" stroke-width="0.7"/>
<rect x="115.40" y="333.50" width="5.80" height="26.80" fill="#9a9aa8"/>
<line x1="118.30" y1="332.50" x2="118.30" y2="333.50" stroke="#555" stroke-width="0.7"/>
<line x1="116.80" y1="332.50" x2="119.80" y2="332.50" stroke="#555" stroke-width="0.7"/>
<rect x="124.90" y="316.30" width="5.70" height="44.00" fill="#acd9f5"/>
<line x1="127.75" y1="311.00" x2="127.75" y2="316.30" stroke="#555" stroke-width="0.7"/>
<line x1="126.25" y1="311.00" x2="129.25" y2="311.00" stroke="#555" stroke-width="0.7"/>
<rect x="134.30" y="342.90" width="5.70" height="17.40" fill="#a57aa8"/>
<line x1="137.15" y1="340.50" x2="137.15" y2="342.90" stroke="#555" stroke-width="0.7"/>
<line x1="135.65" y1="340.50" x2="138.65" y2="340.50" stroke="#555" stroke-width="0.7"/>
<line x1="44.30" y1="360.30" x2="142.30" y2="360.30" stroke="#222" stroke-width="1.3"/>
<line x1="59.30" y1="360.30" x2="59.30" y2="362.80" stroke="#222" stroke-width="0.9"/>
<line x1="93.50" y1="360.30" x2="93.50" y2="362.80" stroke="#222" stroke-width="0.9"/>
<line x1="127.60" y1="360.30" x2="127.60" y2="362.80" stroke="#222" stroke-width="0.9"/>
<circle cx="50.40" cy="340.00" r="1.4" fill="#2a3342"/>
<circle cx="49.00" cy="344.00" r="1.4" fill="#2a3342"/>
<circle cx="52.00" cy="343.50" r="1.4" fill="#2a3342"/>
<circle cx="58.00" cy="342.00" r="1.4" fill="#2aa7de"/>
<circle cx="61.00" cy="343.00" r="1.4" fill="#2aa7de"/>
<circle cx="59.50" cy="348.00" r="1.4" fill="#2aa7de"/>
<path d="M67.50 334.90L69.10 337.78L65.90 337.78Z" fill="#4b1d55"/>
<path d="M70.50 335.40L72.10 338.28L68.90 338.28Z" fill="#4b1d55"/>
<path d="M69.00 343.40L70.60 346.28L67.40 346.28Z" fill="#4b1d55"/>
<circle cx="83.00" cy="352.50" r="1.4" fill="#2a3342"/>
<circle cx="84.50" cy="355.50" r="1.4" fill="#2a3342"/>
<circle cx="86.00" cy="356.00" r="1.4" fill="#2a3342"/>
<circle cx="92.00" cy="358.50" r="1.4" fill="#2aa7de"/>
<circle cx="94.00" cy="358.00" r="1.4" fill="#2aa7de"/>
<circle cx="95.50" cy="358.50" r="1.4" fill="#2aa7de"/>
<path d="M103.00 342.40L104.60 345.28L101.40 345.28Z" fill="#4b1d55"/>
<path d="M101.50 351.40L103.10 354.28L99.90 354.28Z" fill="#4b1d55"/>
<path d="M104.50 350.90L106.10 353.78L102.90 353.78Z" fill="#4b1d55"/>
<circle cx="117.00" cy="333.50" r="1.4" fill="#2a3342"/>
<circle cx="118.50" cy="332.50" r="1.4" fill="#2a3342"/>
<circle cx="120.00" cy="334.00" r="1.4" fill="#2a3342"/>
<circle cx="127.70" cy="313.00" r="1.4" fill="#2aa7de"/>
<circle cx="127.70" cy="317.50" r="1.4" fill="#2aa7de"/>
<circle cx="127.70" cy="321.00" r="1.4" fill="#2aa7de"/>
<path d="M137.00 338.40L138.60 341.28L135.40 341.28Z" fill="#4b1d55"/>
<path d="M135.50 342.40L137.10 345.28L133.90 345.28Z" fill="#4b1d55"/>
<path d="M138.50 342.40L140.10 345.28L136.90 345.28Z" fill="#4b1d55"/>
<line x1="93.20" y1="309.60" x2="103.00" y2="309.60" stroke="#333" stroke-width="0.9"/>
<circle cx="98.10" cy="306.20" r="1.1" fill="#2a2a2a"/>
<line x1="126.40" y1="281.10" x2="137.20" y2="281.10" stroke="#333" stroke-width="0.9"/>
<circle cx="127.45" cy="277.70" r="1.1" fill="#2a2a2a"/>
<circle cx="130.35" cy="277.70" r="1.1" fill="#2a2a2a"/>
<circle cx="133.25" cy="277.70" r="1.1" fill="#2a2a2a"/>
<circle cx="136.15" cy="277.70" r="1.1" fill="#2a2a2a"/>
<line x1="118.30" y1="295.70" x2="127.40" y2="295.70" stroke="#333" stroke-width="0.9"/>
<circle cx="119.95" cy="292.30" r="1.1" fill="#2a2a2a"/>
<circle cx="122.85" cy="292.30" r="1.1" fill="#2a2a2a"/>
<circle cx="125.75" cy="292.30" r="1.1" fill="#2a2a2a"/>
<line x1="118.30" y1="309.10" x2="137.20" y2="309.10" stroke="#333" stroke-width="0.9"/>
<circle cx="126.30" cy="305.70" r="1.1" fill="#2a2a2a"/>
<circle cx="129.20" cy="305.70" r="1.1" fill="#2a2a2a"/>
<text x="59.6" y="372.6" font-size="7.6" text-anchor="middle" textLength="13.3" lengthAdjust="spacingAndGlyphs" fill="#2b2b2b">Treg</text>
<text x="93.5" y="372.6" font-size="7.6" text-anchor="middle" textLength="14.8" lengthAdjust="spacingAndGlyphs" fill="#2b2b2b">Th17</text>
<text x="127.4" y="372.6" font-size="7.6" text-anchor="middle" textLength="10.2" lengthAdjust="spacingAndGlyphs" fill="#2b2b2b">Th1</text>
<text x="22.8" y="326" font-size="7.6" text-anchor="middle" textLength="71.7" lengthAdjust="spacingAndGlyphs" transform="rotate(-90 22.8 326)" fill="#2b2b2b">Freq (%) of CD4<tspan font-size="4.5" dy="-3">+</tspan><tspan dy="3"> T cells</tspan></text>
<text x="228.8" y="274.5" font-size="9.0" text-anchor="middle" textLength="16.5" lengthAdjust="spacingAndGlyphs" fill="#2b2b2b" stroke="#2b2b2b" stroke-width="0.18">DSS</text>
<line x1="178.90" y1="291.70" x2="178.90" y2="360.80" stroke="#222" stroke-width="1.35"/>
<line x1="175.90" y1="360.30" x2="178.90" y2="360.30" stroke="#222" stroke-width="0.9"/>
<text x="173.3" y="362.82" font-size="7.0" text-anchor="end" fill="#2b2b2b">0</text>
<line x1="175.90" y1="343.85" x2="178.90" y2="343.85" stroke="#222" stroke-width="0.9"/>
<text x="173.3" y="346.37" font-size="7.0" text-anchor="end" fill="#2b2b2b">10</text>
<line x1="175.90" y1="327.40" x2="178.90" y2="327.40" stroke="#222" stroke-width="0.9"/>
<text x="173.3" y="329.92" font-size="7.0" text-anchor="end" fill="#2b2b2b">20</text>
<line x1="175.90" y1="310.95" x2="178.90" y2="310.95" stroke="#222" stroke-width="0.9"/>
<text x="173.3" y="313.46999999999997" font-size="7.0" text-anchor="end" fill="#2b2b2b">30</text>
<line x1="175.90" y1="294.50" x2="178.90" y2="294.50" stroke="#222" stroke-width="0.9"/>
<text x="173.3" y="297.02" font-size="7.0" text-anchor="end" fill="#2b2b2b">40</text>
<rect x="182.80" y="329.80" width="5.80" height="30.50" fill="#9a9aa8" fill-opacity="0.85"/>
<line x1="185.70" y1="323.00" x2="185.70" y2="336.60" stroke="#666" stroke-width="0.7"/>
<line x1="184.20" y1="323.00" x2="187.20" y2="323.00" stroke="#666" stroke-width="0.7"/>
<rect x="191.90" y="340.50" width="5.90" height="19.80" fill="#acd9f5" fill-opacity="0.85"/>
<line x1="194.85" y1="338.00" x2="194.85" y2="343.00" stroke="#666" stroke-width="0.7"/>
<line x1="193.35" y1="338.00" x2="196.35" y2="338.00" stroke="#666" stroke-width="0.7"/>
<rect x="201.30" y="319.30" width="5.90" height="41.00" fill="#a57aa8" fill-opacity="0.85"/>
<line x1="204.25" y1="317.00" x2="204.25" y2="321.60" stroke="#666" stroke-width="0.7"/>
<line x1="202.75" y1="317.00" x2="205.75" y2="317.00" stroke="#666" stroke-width="0.7"/>
<rect x="217.00" y="348.00" width="5.70" height="12.30" fill="#9a9aa8" fill-opacity="0.85"/>
<line x1="219.85" y1="342.00" x2="219.85" y2="354.00" stroke="#666" stroke-width="0.7"/>
<line x1="218.35" y1="342.00" x2="221.35" y2="342.00" stroke="#666" stroke-width="0.7"/>
<rect x="226.30" y="347.00" width="5.70" height="13.30" fill="#acd9f5" fill-opacity="0.85"/>
<line x1="229.15" y1="338.00" x2="229.15" y2="356.00" stroke="#666" stroke-width="0.7"/>
<line x1="227.65" y1="338.00" x2="230.65" y2="338.00" stroke="#666" stroke-width="0.7"/>
<rect x="235.60" y="347.00" width="5.70" height="13.30" fill="#a57aa8" fill-opacity="0.85"/>
<line x1="238.45" y1="344.50" x2="238.45" y2="349.50" stroke="#666" stroke-width="0.7"/>
<line x1="236.95" y1="344.50" x2="239.95" y2="344.50" stroke="#666" stroke-width="0.7"/>
<rect x="251.20" y="345.70" width="5.60" height="14.60" fill="#9a9aa8" fill-opacity="0.85"/>
<line x1="254.00" y1="342.00" x2="254.00" y2="349.40" stroke="#666" stroke-width="0.7"/>
<line x1="252.50" y1="342.00" x2="255.50" y2="342.00" stroke="#666" stroke-width="0.7"/>
<rect x="260.20" y="338.80" width="5.80" height="21.50" fill="#acd9f5" fill-opacity="0.85"/>
<line x1="263.10" y1="331.00" x2="263.10" y2="346.60" stroke="#666" stroke-width="0.7"/>
<line x1="261.60" y1="331.00" x2="264.60" y2="331.00" stroke="#666" stroke-width="0.7"/>
<rect x="269.80" y="344.90" width="5.70" height="15.40" fill="#a57aa8" fill-opacity="0.85"/>
<line x1="272.65" y1="342.50" x2="272.65" y2="347.30" stroke="#666" stroke-width="0.7"/>
<line x1="271.15" y1="342.50" x2="274.15" y2="342.50" stroke="#666" stroke-width="0.7"/>
<line x1="178.90" y1="360.30" x2="278.40" y2="360.30" stroke="#222" stroke-width="1.3"/>
<line x1="195.20" y1="360.30" x2="195.20" y2="362.80" stroke="#222" stroke-width="0.9"/>
<line x1="229.10" y1="360.30" x2="229.10" y2="362.80" stroke="#222" stroke-width="0.9"/>
<line x1="263.20" y1="360.30" x2="263.20" y2="362.80" stroke="#222" stroke-width="0.9"/>
<circle cx="185.70" cy="306.00" r="1.3" fill="#2a3342"/>
<circle cx="185.70" cy="315.00" r="1.3" fill="#2a3342"/>
<circle cx="185.70" cy="320.00" r="1.3" fill="#2a3342"/>
<circle cx="185.70" cy="333.00" r="1.3" fill="#2a3342"/>
<circle cx="185.70" cy="341.00" r="1.3" fill="#2a3342"/>
<circle cx="185.70" cy="350.00" r="1.3" fill="#2a3342"/>
<circle cx="193.50" cy="339.00" r="1.3" fill="#2aa7de"/>
<circle cx="196.00" cy="340.00" r="1.3" fill="#2aa7de"/>
<circle cx="194.00" cy="344.00" r="1.3" fill="#2aa7de"/>
<circle cx="196.50" cy="345.00" r="1.3" fill="#2aa7de"/>
<circle cx="195.00" cy="349.00" r="1.3" fill="#2aa7de"/>
<path d="M204.20 310.50L205.70 313.20L202.70 313.20Z" fill="#4b1d55"/>
<path d="M203.00 317.50L204.50 320.20L201.50 320.20Z" fill="#4b1d55"/>
<path d="M205.50 318.50L207.00 321.20L204.00 321.20Z" fill="#4b1d55"/>
<path d="M204.20 323.50L205.70 326.20L202.70 326.20Z" fill="#4b1d55"/>
<circle cx="219.80" cy="331.00" r="1.3" fill="#2a3342"/>
<circle cx="219.80" cy="339.00" r="1.3" fill="#2a3342"/>
<circle cx="219.80" cy="346.00" r="1.3" fill="#2a3342"/>
<circle cx="221.00" cy="352.00" r="1.3" fill="#2a3342"/>
<circle cx="219.00" cy="356.00" r="1.3" fill="#2a3342"/>
<circle cx="229.10" cy="330.00" r="1.3" fill="#2aa7de"/>
<circle cx="229.10" cy="338.00" r="1.3" fill="#2aa7de"/>
<circle cx="229.10" cy="343.00" r="1.3" fill="#2aa7de"/>
<circle cx="229.10" cy="351.00" r="1.3" fill="#2aa7de"/>
<circle cx="229.10" cy="359.00" r="1.3" fill="#2aa7de"/>
<path d="M238.50 336.50L240.00 339.20L237.00 339.20Z" fill="#4b1d55"/>
<path d="M237.50 344.50L239.00 347.20L236.00 347.20Z" fill="#4b1d55"/>
<path d="M239.50 346.50L241.00 349.20L238.00 349.20Z" fill="#4b1d55"/>
<path d="M238.50 353.50L240.00 356.20L237.00 356.20Z" fill="#4b1d55"/>
<circle cx="254.00" cy="327.00" r="1.3" fill="#2a3342"/>
<circle cx="254.00" cy="337.00" r="1.3" fill="#2a3342"/>
<circle cx="254.00" cy="342.00" r="1.3" fill="#2a3342"/>
<circle cx="254.00" cy="350.00" r="1.3" fill="#2a3342"/>
<circle cx="254.00" cy="354.00" r="1.3" fill="#2a3342"/>
<circle cx="263.10" cy="313.00" r="1.3" fill="#2aa7de"/>
<circle cx="263.10" cy="319.00" r="1.3" fill="#2aa7de"/>
<circle cx="263.10" cy="347.00" r="1.3" fill="#2aa7de"/>
<circle cx="263.10" cy="352.00" r="1.3" fill="#2aa7de"/>
<circle cx="263.10" cy="356.00" r="1.3" fill="#2aa7de"/>
<path d="M272.60 340.50L274.10 343.20L271.10 343.20Z" fill="#4b1d55"/>
<path d="M274.00 338.50L275.50 341.20L272.50 341.20Z" fill="#4b1d55"/>
<path d="M271.50 344.50L273.00 347.20L270.00 347.20Z" fill="#4b1d55"/>
<path d="M272.60 348.50L274.10 351.20L271.10 351.20Z" fill="#4b1d55"/>
<line x1="185.80" y1="302.00" x2="193.80" y2="302.00" stroke="#333" stroke-width="0.9"/>
<circle cx="189.80" cy="298.60" r="1.1" fill="#2a2a2a"/>
<line x1="196.30" y1="288.30" x2="204.50" y2="288.30" stroke="#333" stroke-width="0.9"/>
<circle cx="198.95" cy="284.90" r="1.1" fill="#2a2a2a"/>
<circle cx="201.85" cy="284.90" r="1.1" fill="#2a2a2a"/>
<text x="195.2" y="372.6" font-size="7.6" text-anchor="middle" textLength="13.3" lengthAdjust="spacingAndGlyphs" fill="#2b2b2b">Treg</text>
<text x="229.1" y="372.6" font-size="7.6" text-anchor="middle" textLength="14.8" lengthAdjust="spacingAndGlyphs" fill="#2b2b2b">Th17</text>
<text x="262.5" y="372.6" font-size="7.6" text-anchor="middle" textLength="10.2" lengthAdjust="spacingAndGlyphs" fill="#2b2b2b">Th1</text>
<text x="157.4" y="326" font-size="7.6" text-anchor="middle" textLength="71.7" lengthAdjust="spacingAndGlyphs" transform="rotate(-90 157.4 326)" fill="#2b2b2b">Freq (%) of CD4<tspan font-size="4.5" dy="-3">+</tspan><tspan dy="3"> T cells</tspan></text>
<circle cx="286.40" cy="308.50" r="1.8" fill="#2a3342"/>
<text x="291.6" y="310.8" font-size="7.4" textLength="10" lengthAdjust="spacingAndGlyphs" fill="#2b2b2b">WT</text>
<circle cx="286.40" cy="318.90" r="1.8" fill="#2aa7de"/>
<text x="291.6" y="321" font-size="7.4" fill="#2b2b2b">gp91<tspan font-size="4.59" dy="-2.66" fill="#5a5a5a">phox-/-</tspan></text>
<path d="M286.40 327.90L288.30 331.32L284.50 331.32Z" fill="#4b1d55"/>
<text x="291.6" y="331.4" font-size="7.4" fill="#2b2b2b">p47<tspan font-size="4.59" dy="-2.66" fill="#5a5a5a">phox-/-</tspan></text>
<text x="7.2" y="393.8" font-size="11.8" font-weight="bold" fill="#111">D</text>
<text x="93.8" y="394.5" font-size="9.0" text-anchor="middle" textLength="32.5" lengthAdjust="spacingAndGlyphs" fill="#2b2b2b" stroke="#2b2b2b" stroke-width="0.18">Baseline</text>
<line x1="44.20" y1="412.00" x2="44.20" y2="481.30" stroke="#222" stroke-width="1.35"/>
<line x1="41.20" y1="480.80" x2="44.20" y2="480.80" stroke="#222" stroke-width="0.9"/>
<text x="38.2" y="483.32" font-size="7.0" text-anchor="end" fill="#2b2b2b">0</text>
<line x1="41.20" y1="467.60" x2="44.20" y2="467.60" stroke="#222" stroke-width="0.9"/>
<text x="38.2" y="470.12" font-size="7.0" text-anchor="end" fill="#2b2b2b">10</text>
<line x1="41.20" y1="454.40" x2="44.20" y2="454.40" stroke="#222" stroke-width="0.9"/>
<text x="38.2" y="456.92" font-size="7.0" text-anchor="end" fill="#2b2b2b">20</text>
<line x1="41.20" y1="441.20" x2="44.20" y2="441.20" stroke="#222" stroke-width="0.9"/>
<text x="38.2" y="443.71999999999997" font-size="7.0" text-anchor="end" fill="#2b2b2b">30</text>
<line x1="41.20" y1="428.00" x2="44.20" y2="428.00" stroke="#222" stroke-width="0.9"/>
<text x="38.2" y="430.52" font-size="7.0" text-anchor="end" fill="#2b2b2b">40</text>
<line x1="41.20" y1="414.80" x2="44.20" y2="414.80" stroke="#222" stroke-width="0.9"/>
<text x="38.2" y="417.32" font-size="7.0" text-anchor="end" fill="#2b2b2b">50</text>
<rect x="49.30" y="449.00" width="8.80" height="31.80" fill="#9a9aa8"/>
<line x1="53.70" y1="446.00" x2="53.70" y2="449.00" stroke="#555" stroke-width="0.7"/>
<line x1="52.20" y1="446.00" x2="55.20" y2="446.00" stroke="#555" stroke-width="0.7"/>
<rect x="63.20" y="456.30" width="8.50" height="24.50" fill="#acd9f5"/>
<line x1="67.45" y1="445.50" x2="67.45" y2="456.30" stroke="#555" stroke-width="0.7"/>
<line x1="65.95" y1="445.50" x2="68.95" y2="445.50" stroke="#555" stroke-width="0.7"/>
<rect x="77.50" y="448.80" width="8.80" height="32.00" fill="#a57aa8"/>
<line x1="81.90" y1="445.00" x2="81.90" y2="448.80" stroke="#555" stroke-width="0.7"/>
<line x1="80.40" y1="445.00" x2="83.40" y2="445.00" stroke="#555" stroke-width="0.7"/>
<rect x="101.20" y="469.90" width="8.80" height="10.90" fill="#9a9aa8"/>
<line x1="105.60" y1="468.00" x2="105.60" y2="469.90" stroke="#555" stroke-width="0.7"/>
<line x1="104.10" y1="468.00" x2="107.10" y2="468.00" stroke="#555" stroke-width="0.7"/>
<rect x="115.30" y="474.90" width="9.00" height="5.90" fill="#acd9f5"/>
<line x1="119.80" y1="473.50" x2="119.80" y2="474.90" stroke="#555" stroke-width="0.7"/>
<line x1="118.30" y1="473.50" x2="121.30" y2="473.50" stroke="#555" stroke-width="0.7"/>
<rect x="129.80" y="468.60" width="8.60" height="12.20" fill="#a57aa8"/>
<line x1="134.10" y1="467.00" x2="134.10" y2="468.60" stroke="#555" stroke-width="0.7"/>
<line x1="132.60" y1="467.00" x2="135.60" y2="467.00" stroke="#555" stroke-width="0.7"/>
<line x1="44.20" y1="480.80" x2="143.80" y2="480.80" stroke="#222" stroke-width="1.3"/>
<line x1="68.10" y1="480.80" x2="68.10" y2="483.30" stroke="#222" stroke-width="0.9"/>
<line x1="119.80" y1="480.80" x2="119.80" y2="483.30" stroke="#222" stroke-width="0.9"/>
<circle cx="51.50" cy="446.50" r="1.4" fill="#2a3342"/>
<circle cx="55.50" cy="446.50" r="1.4" fill="#2a3342"/>
<circle cx="53.70" cy="451.00" r="1.4" fill="#2a3342"/>
<circle cx="68.10" cy="438.00" r="1.4" fill="#2aa7de"/>
<circle cx="68.10" cy="453.00" r="1.4" fill="#2aa7de"/>
<circle cx="68.10" cy="467.00" r="1.4" fill="#2aa7de"/>
<path d="M81.90 443.40L83.50 446.28L80.30 446.28Z" fill="#4b1d55"/>
<path d="M80.50 447.40L82.10 450.28L78.90 450.28Z" fill="#4b1d55"/>
<path d="M83.50 447.40L85.10 450.28L81.90 450.28Z" fill="#4b1d55"/>
<path d="M81.90 451.40L83.50 454.28L80.30 454.28Z" fill="#4b1d55"/>
<path d="M105.60 464.60L107.00 467.12L104.20 467.12Z" fill="#2a3342"/>
<path d="M103.50 468.60L104.90 471.12L102.10 471.12Z" fill="#2a3342"/>
<path d="M107.50 468.60L108.90 471.12L106.10 471.12Z" fill="#2a3342"/>
<circle cx="117.50" cy="473.50" r="1.4" fill="#2aa7de"/>
<circle cx="119.80" cy="472.50" r="1.4" fill="#2aa7de"/>
<circle cx="122.00" cy="474.00" r="1.4" fill="#2aa7de"/>
<path d="M132.00 466.50L133.50 469.20L130.50 469.20Z" fill="#4b1d55"/>
<path d="M134.00 467.00L135.50 469.70L132.50 469.70Z" fill="#4b1d55"/>
<path d="M136.50 466.50L138.00 469.20L135.00 469.20Z" fill="#4b1d55"/>
<text x="56.2" y="492.2" font-size="7.0" fill="#2b2b2b">IL-10<tspan font-size="4.50" dy="-2.52" fill="#5a5a5a">+</tspan></text>
<text x="111.4" y="492.4" font-size="7.0" fill="#2b2b2b">IL-1b<tspan font-size="4.50" dy="-2.52" fill="#5a5a5a">+</tspan></text>
<text x="13.6" y="447.2" font-size="8.288000000000002" text-anchor="middle" textLength="33.5" lengthAdjust="spacingAndGlyphs" transform="rotate(-90 13.6 447.2)" fill="#2b2b2b">Freq (%) of</text>
<text x="23.8" y="446.5" font-size="8.288000000000002" text-anchor="middle" textLength="56" lengthAdjust="spacingAndGlyphs" transform="rotate(-90 23.8 446.5)" fill="#2b2b2b">total myeloid cells</text>
<text x="241.7" y="394.5" font-size="9.0" text-anchor="middle" textLength="16.5" lengthAdjust="spacingAndGlyphs" fill="#2b2b2b" stroke="#2b2b2b" stroke-width="0.18">DSS</text>
<line x1="191.30" y1="411.30" x2="191.30" y2="481.30" stroke="#222" stroke-width="1.35"/>
<line x1="188.30" y1="480.80" x2="191.30" y2="480.80" stroke="#222" stroke-width="0.9"/>
<text x="185.6" y="483.32" font-size="7.0" text-anchor="end" fill="#2b2b2b">0</text>
<line x1="188.30" y1="467.40" x2="191.30" y2="467.40" stroke="#222" stroke-width="0.9"/>
<text x="185.6" y="469.92" font-size="7.0" text-anchor="end" fill="#2b2b2b">10</text>
<line x1="188.30" y1="454.00" x2="191.30" y2="454.00" stroke="#222" stroke-width="0.9"/>
<text x="185.6" y="456.52" font-size="7.0" text-anchor="end" fill="#2b2b2b">20</text>
<line x1="188.30" y1="440.60" x2="191.30" y2="440.60" stroke="#222" stroke-width="0.9"/>
<text x="185.6" y="443.12" font-size="7.0" text-anchor="end" fill="#2b2b2b">30</text>
<line x1="188.30" y1="427.20" x2="191.30" y2="427.20" stroke="#222" stroke-width="0.9"/>
<text x="185.6" y="429.71999999999997" font-size="7.0" text-anchor="end" fill="#2b2b2b">40</text>
<line x1="188.30" y1="413.80" x2="191.30" y2="413.80" stroke="#222" stroke-width="0.9"/>
<text x="185.6" y="416.32" font-size="7.0" text-anchor="end" fill="#2b2b2b">50</text>
<rect x="197.00" y="434.50" width="8.50" height="46.30" fill="#9a9aa8"/>
<line x1="201.25" y1="432.50" x2="201.25" y2="434.50" stroke="#555" stroke-width="0.7"/>
<line x1="199.75" y1="432.50" x2="202.75" y2="432.50" stroke="#555" stroke-width="0.7"/>
<rect x="211.30" y="474.50" width="8.20" height="6.30" fill="#acd9f5"/>
<line x1="215.40" y1="468.00" x2="215.40" y2="474.50" stroke="#555" stroke-width="0.7"/>
<line x1="213.90" y1="468.00" x2="216.90" y2="468.00" stroke="#555" stroke-width="0.7"/>
<rect x="225.00" y="453.30" width="8.80" height="27.50" fill="#a57aa8"/>
<line x1="229.40" y1="447.00" x2="229.40" y2="453.30" stroke="#555" stroke-width="0.7"/>
<line x1="227.90" y1="447.00" x2="230.90" y2="447.00" stroke="#555" stroke-width="0.7"/>
<rect x="249.00" y="440.50" width="8.80" height="40.30" fill="#9a9aa8"/>
<line x1="253.40" y1="437.50" x2="253.40" y2="440.50" stroke="#555" stroke-width="0.7"/>
<line x1="251.90" y1="437.50" x2="254.90" y2="437.50" stroke="#555" stroke-width="0.7"/>
<rect x="263.70" y="449.20" width="8.80" height="31.60" fill="#acd9f5"/>
<line x1="268.10" y1="441.00" x2="268.10" y2="449.20" stroke="#555" stroke-width="0.7"/>
<line x1="266.60" y1="441.00" x2="269.60" y2="441.00" stroke="#555" stroke-width="0.7"/>
<rect x="278.00" y="426.90" width="9.00" height="53.90" fill="#a57aa8"/>
<line x1="282.50" y1="422.00" x2="282.50" y2="426.90" stroke="#555" stroke-width="0.7"/>
<line x1="281.00" y1="422.00" x2="284.00" y2="422.00" stroke="#555" stroke-width="0.7"/>
<line x1="191.30" y1="480.80" x2="291.90" y2="480.80" stroke="#222" stroke-width="1.3"/>
<line x1="215.40" y1="480.80" x2="215.40" y2="483.30" stroke="#222" stroke-width="0.9"/>
<line x1="268.10" y1="480.80" x2="268.10" y2="483.30" stroke="#222" stroke-width="0.9"/>
<circle cx="199.00" cy="433.50" r="1.4" fill="#2a3342"/>
<circle cx="201.30" cy="434.50" r="1.4" fill="#2a3342"/>
<circle cx="204.00" cy="432.00" r="1.4" fill="#2a3342"/>
<circle cx="215.40" cy="469.00" r="1.4" fill="#2aa7de"/>
<circle cx="215.40" cy="477.00" r="1.4" fill="#2aa7de"/>
<path d="M226.50 445.50L228.00 448.20L225.00 448.20Z" fill="#4b1d55"/>
<path d="M232.50 445.00L234.00 447.70L231.00 447.70Z" fill="#4b1d55"/>
<path d="M227.50 453.50L229.00 456.20L226.00 456.20Z" fill="#4b1d55"/>
<path d="M231.50 458.50L233.00 461.20L230.00 461.20Z" fill="#4b1d55"/>
<path d="M229.40 450.50L230.90 453.20L227.90 453.20Z" fill="#4b1d55"/>
<circle cx="250.50" cy="437.50" r="1.4" fill="#2a3342"/>
<circle cx="256.50" cy="437.00" r="1.4" fill="#2a3342"/>
<circle cx="253.40" cy="443.00" r="1.4" fill="#2a3342"/>
<circle cx="268.10" cy="442.00" r="1.5" fill="#2aa7de"/>
<circle cx="268.10" cy="455.00" r="1.5" fill="#2aa7de"/>
<path d="M279.50 420.00L281.00 422.70L278.00 422.70Z" fill="#4b1d55"/>
<path d="M286.00 420.00L287.50 422.70L284.50 422.70Z" fill="#4b1d55"/>
<path d="M282.50 428.50L284.00 431.20L281.00 431.20Z" fill="#4b1d55"/>
<path d="M282.50 434.50L284.00 437.20L281.00 437.20Z" fill="#4b1d55"/>
<line x1="200.00" y1="417.00" x2="211.80" y2="417.00" stroke="#333" stroke-width="0.9"/>
<circle cx="201.55" cy="413.60" r="1.1" fill="#2a2a2a"/>
<circle cx="204.45" cy="413.60" r="1.1" fill="#2a2a2a"/>
<circle cx="207.35" cy="413.60" r="1.1" fill="#2a2a2a"/>
<circle cx="210.25" cy="413.60" r="1.1" fill="#2a2a2a"/>
<line x1="215.00" y1="405.00" x2="229.50" y2="405.00" stroke="#333" stroke-width="0.9"/>
<circle cx="220.80" cy="401.60" r="1.1" fill="#2a2a2a"/>
<circle cx="223.70" cy="401.60" r="1.1" fill="#2a2a2a"/>
<line x1="200.00" y1="427.50" x2="229.50" y2="427.50" stroke="#333" stroke-width="0.9"/>
<circle cx="213.30" cy="424.10" r="1.1" fill="#2a2a2a"/>
<circle cx="216.20" cy="424.10" r="1.1" fill="#2a2a2a"/>
<line x1="267.70" y1="404.70" x2="282.40" y2="404.70" stroke="#333" stroke-width="0.9"/>
<circle cx="273.60" cy="401.30" r="1.1" fill="#2a2a2a"/>
<circle cx="276.50" cy="401.30" r="1.1" fill="#2a2a2a"/>
<line x1="253.50" y1="416.00" x2="282.40" y2="416.00" stroke="#333" stroke-width="0.9"/>
<circle cx="267.95" cy="412.60" r="1.1" fill="#2a2a2a"/>
<text x="205.8" y="492.2" font-size="7.0" fill="#2b2b2b">IL-10<tspan font-size="4.50" dy="-2.52" fill="#5a5a5a">+</tspan></text>
<text x="259.5" y="492.4" font-size="7.0" fill="#2b2b2b">IL-1b<tspan font-size="4.50" dy="-2.52" fill="#5a5a5a">+</tspan></text>
<text x="160.6" y="447.2" font-size="8.288000000000002" text-anchor="middle" textLength="33" lengthAdjust="spacingAndGlyphs" transform="rotate(-90 160.6 447.2)" fill="#2b2b2b">Freq (%) of</text>
<text x="171" y="446.5" font-size="8.288000000000002" text-anchor="middle" textLength="58" lengthAdjust="spacingAndGlyphs" transform="rotate(-90 171 446.5)" fill="#2b2b2b">total myeloid cells</text>
<circle cx="301.40" cy="435.80" r="1.8" fill="#2a3342"/>
<text x="306.6" y="438.3" font-size="7.4" textLength="10" lengthAdjust="spacingAndGlyphs" fill="#2b2b2b">WT</text>
<circle cx="301.40" cy="445.70" r="1.8" fill="#2aa7de"/>
<text x="306.6" y="448" font-size="7.4" fill="#2b2b2b">gp91<tspan font-size="4.59" dy="-2.66" fill="#5a5a5a">phox-/-</tspan></text>
<path d="M301.40 453.80L303.30 457.22L299.50 457.22Z" fill="#4b1d55"/>
<text x="306.6" y="457.5" font-size="7.4" fill="#2b2b2b">p47<tspan font-size="4.59" dy="-2.66" fill="#5a5a5a">phox-/-</tspan></text>
<text x="95.8" y="508" font-size="9.0" text-anchor="middle" textLength="32.5" lengthAdjust="spacingAndGlyphs" fill="#2b2b2b" stroke="#2b2b2b" stroke-width="0.18">Baseline</text>
<line x1="44.40" y1="514.50" x2="44.40" y2="548.50" stroke="#222" stroke-width="1.1"/>
<line x1="44.40" y1="553.40" x2="44.40" y2="585.70" stroke="#222" stroke-width="1.1"/>
<line x1="41.40" y1="516.90" x2="44.40" y2="516.90" stroke="#222" stroke-width="0.9"/>
<text x="39.8" y="519.4" font-size="7.0" text-anchor="end" fill="#2b2b2b" textLength="6.8" lengthAdjust="spacingAndGlyphs">40</text>
<line x1="41.40" y1="526.00" x2="44.40" y2="526.00" stroke="#222" stroke-width="0.9"/>
<text x="39.8" y="528.5" font-size="7.0" text-anchor="end" fill="#2b2b2b" textLength="6.8" lengthAdjust="spacingAndGlyphs">30</text>
<line x1="41.40" y1="535.20" x2="44.40" y2="535.20" stroke="#222" stroke-width="0.9"/>
<text x="39.8" y="537.7" font-size="7.0" text-anchor="end" fill="#2b2b2b" textLength="6.8" lengthAdjust="spacingAndGlyphs">20</text>
<line x1="41.40" y1="544.30" x2="44.40" y2="544.30" stroke="#222" stroke-width="0.9"/>
<text x="39.8" y="546.8" font-size="7.0" text-anchor="end" fill="#2b2b2b" textLength="6.8" lengthAdjust="spacingAndGlyphs">10</text>
<line x1="41.40" y1="554.10" x2="44.40" y2="554.10" stroke="#222" stroke-width="0.9"/>
<text x="39.8" y="556.6" font-size="7.0" text-anchor="end" fill="#2b2b2b" textLength="3.4" lengthAdjust="spacingAndGlyphs">5</text>
<line x1="41.40" y1="560.10" x2="44.40" y2="560.10" stroke="#222" stroke-width="0.9"/>
<text x="39.8" y="562.6" font-size="7.0" text-anchor="end" fill="#2b2b2b" textLength="3.4" lengthAdjust="spacingAndGlyphs">4</text>
<line x1="41.40" y1="566.30" x2="44.40" y2="566.30" stroke="#222" stroke-width="0.9"/>
<text x="39.8" y="568.8" font-size="7.0" text-anchor="end" fill="#2b2b2b" textLength="3.4" lengthAdjust="spacingAndGlyphs">3</text>
<line x1="41.40" y1="572.70" x2="44.40" y2="572.70" stroke="#222" stroke-width="0.9"/>
<text x="39.8" y="575.2" font-size="7.0" text-anchor="end" fill="#2b2b2b" textLength="3.4" lengthAdjust="spacingAndGlyphs">2</text>
<line x1="41.40" y1="579.00" x2="44.40" y2="579.00" stroke="#222" stroke-width="0.9"/>
<text x="39.8" y="581.5" font-size="7.0" text-anchor="end" fill="#2b2b2b" textLength="3.4" lengthAdjust="spacingAndGlyphs">1</text>
<line x1="41.40" y1="585.20" x2="44.40" y2="585.20" stroke="#222" stroke-width="0.9"/>
<text x="39.8" y="587.7" font-size="7.0" text-anchor="end" fill="#2b2b2b" textLength="3.4" lengthAdjust="spacingAndGlyphs">0</text>
<line x1="41.90" y1="548.50" x2="44.40" y2="548.50" stroke="#222" stroke-width="0.9"/>
<rect x="47.10" y="569.50" width="4.10" height="15.70" fill="#9a9aa8"/>
<rect x="54.10" y="570.90" width="4.00" height="14.30" fill="#acd9f5"/>
<rect x="61.10" y="571.60" width="4.20" height="13.60" fill="#a57aa8"/>
<rect x="73.50" y="520.40" width="4.20" height="28.10" fill="#9a9aa8"/>
<rect x="73.50" y="553.90" width="4.20" height="31.30" fill="#9a9aa8"/>
<rect x="80.50" y="521.00" width="4.20" height="27.50" fill="#acd9f5"/>
<rect x="80.50" y="553.90" width="4.20" height="31.30" fill="#acd9f5"/>
<rect x="88.00" y="524.60" width="4.20" height="23.90" fill="#a57aa8"/>
<rect x="88.00" y="553.90" width="4.20" height="31.30" fill="#a57aa8"/>
<rect x="99.80" y="562.50" width="4.00" height="22.70" fill="#9a9aa8"/>
<rect x="106.80" y="560.40" width="4.00" height="24.80" fill="#acd9f5"/>
<rect x="114.10" y="554.10" width="4.00" height="31.10" fill="#a57aa8"/>
<rect x="126.20" y="572.30" width="4.00" height="12.90" fill="#9a9aa8"/>
<rect x="133.20" y="573.70" width="4.20" height="11.50" fill="#acd9f5"/>
<rect x="140.20" y="577.20" width="4.20" height="8.00" fill="#a57aa8"/>
<line x1="44.40" y1="585.20" x2="147.50" y2="585.20" stroke="#222" stroke-width="1.3"/>
<line x1="56.10" y1="585.20" x2="56.10" y2="587.70" stroke="#222" stroke-width="0.9"/>
<line x1="82.60" y1="585.20" x2="82.60" y2="587.70" stroke="#222" stroke-width="0.9"/>
<line x1="108.20" y1="585.20" x2="108.20" y2="587.70" stroke="#222" stroke-width="0.9"/>
<line x1="135.20" y1="585.20" x2="135.20" y2="587.70" stroke="#222" stroke-width="0.9"/>
<circle cx="49.00" cy="565.00" r="1.3" fill="#2a3342"/>
<circle cx="49.00" cy="571.00" r="1.3" fill="#2a3342"/>
<circle cx="56.00" cy="567.00" r="1.3" fill="#2aa7de"/>
<circle cx="56.00" cy="575.00" r="1.3" fill="#2aa7de"/>
<circle cx="56.00" cy="580.00" r="1.3" fill="#2aa7de"/>
<path d="M63.00 566.70L64.30 569.04L61.70 569.04Z" fill="#4b1d55"/>
<path d="M63.00 572.70L64.30 575.04L61.70 575.04Z" fill="#4b1d55"/>
<circle cx="75.60" cy="521.00" r="1.3" fill="#2a3342"/>
<circle cx="78.00" cy="521.00" r="1.3" fill="#2a3342"/>
<circle cx="82.60" cy="519.00" r="1.3" fill="#2aa7de"/>
<circle cx="82.60" cy="524.00" r="1.3" fill="#2aa7de"/>
<path d="M90.00 520.70L91.30 523.04L88.70 523.04Z" fill="#4b1d55"/>
<path d="M90.00 524.70L91.30 527.04L88.70 527.04Z" fill="#4b1d55"/>
<circle cx="101.80" cy="560.00" r="1.3" fill="#2a3342"/>
<circle cx="101.80" cy="563.00" r="1.3" fill="#2a3342"/>
<circle cx="108.80" cy="547.00" r="1.3" fill="#2aa7de"/>
<circle cx="108.80" cy="555.00" r="1.3" fill="#2aa7de"/>
<circle cx="108.80" cy="578.00" r="1.3" fill="#2aa7de"/>
<path d="M116.00 545.70L117.30 548.04L114.70 548.04Z" fill="#4b1d55"/>
<path d="M116.00 554.70L117.30 557.04L114.70 557.04Z" fill="#4b1d55"/>
<circle cx="128.20" cy="568.00" r="1.3" fill="#2a3342"/>
<circle cx="128.20" cy="574.00" r="1.3" fill="#2a3342"/>
<circle cx="135.30" cy="572.00" r="1.3" fill="#2aa7de"/>
<circle cx="136.00" cy="575.00" r="1.3" fill="#2aa7de"/>
<path d="M142.30 574.70L143.60 577.04L141.00 577.04Z" fill="#4b1d55"/>
<path d="M143.00 577.70L144.30 580.04L141.70 580.04Z" fill="#4b1d55"/>
<text x="59.6" y="595.2" font-size="7.3" text-anchor="end" textLength="37" lengthAdjust="spacingAndGlyphs" transform="rotate(-45 59.6 595.2)" fill="#2b2b2b">Macrophage</text>
<text x="82.0" y="595.4" font-size="7.3" text-anchor="end" textLength="8.6" lengthAdjust="spacingAndGlyphs" transform="rotate(-45 82.0 595.4)" fill="#2b2b2b">DC</text>
<text x="111.2" y="595.2" font-size="7.3" text-anchor="end" textLength="29.5" lengthAdjust="spacingAndGlyphs" transform="rotate(-45 111.2 595.2)" fill="#2b2b2b">Monocyte</text>
<text x="137.4" y="595.0" font-size="7.3" text-anchor="end" textLength="31.5" lengthAdjust="spacingAndGlyphs" transform="rotate(-45 137.4 595.0)" fill="#2b2b2b">Neutrophil</text>
<text x="13.5" y="549.4" font-size="8.288000000000002" text-anchor="middle" textLength="33.8" lengthAdjust="spacingAndGlyphs" transform="rotate(-90 13.5 549.4)" fill="#2b2b2b">Freq (%) of</text>
<text x="23.8" y="550" font-size="8.288000000000002" text-anchor="middle" textLength="57.5" lengthAdjust="spacingAndGlyphs" transform="rotate(-90 23.8 550)" fill="#2b2b2b">total myeloid cells</text>
<text x="242.7" y="508.8" font-size="9.0" text-anchor="middle" textLength="16.5" lengthAdjust="spacingAndGlyphs" fill="#2b2b2b" stroke="#2b2b2b" stroke-width="0.18">DSS</text>
<line x1="191.30" y1="515.50" x2="191.30" y2="548.80" stroke="#222" stroke-width="1.1"/>
<line x1="191.30" y1="553.80" x2="191.30" y2="585.80" stroke="#222" stroke-width="1.1"/>
<line x1="188.30" y1="518.00" x2="191.30" y2="518.00" stroke="#222" stroke-width="0.9"/>
<text x="186.6" y="520.5" font-size="7.0" text-anchor="end" fill="#2b2b2b" textLength="6.8" lengthAdjust="spacingAndGlyphs">40</text>
<line x1="188.30" y1="527.00" x2="191.30" y2="527.00" stroke="#222" stroke-width="0.9"/>
<text x="186.6" y="529.5" font-size="7.0" text-anchor="end" fill="#2b2b2b" textLength="6.8" lengthAdjust="spacingAndGlyphs">30</text>
<line x1="188.30" y1="535.80" x2="191.30" y2="535.80" stroke="#222" stroke-width="0.9"/>
<text x="186.6" y="538.3" font-size="7.0" text-anchor="end" fill="#2b2b2b" textLength="6.8" lengthAdjust="spacingAndGlyphs">20</text>
<line x1="188.30" y1="544.50" x2="191.30" y2="544.50" stroke="#222" stroke-width="0.9"/>
<text x="186.6" y="547.0" font-size="7.0" text-anchor="end" fill="#2b2b2b" textLength="6.8" lengthAdjust="spacingAndGlyphs">10</text>
<line x1="188.30" y1="554.30" x2="191.30" y2="554.30" stroke="#222" stroke-width="0.9"/>
<text x="186.6" y="556.8" font-size="7.0" text-anchor="end" fill="#2b2b2b" textLength="3.4" lengthAdjust="spacingAndGlyphs">5</text>
<line x1="188.30" y1="560.50" x2="191.30" y2="560.50" stroke="#222" stroke-width="0.9"/>
<text x="186.6" y="563.0" font-size="7.0" text-anchor="end" fill="#2b2b2b" textLength="3.4" lengthAdjust="spacingAndGlyphs">4</text>
<line x1="188.30" y1="566.70" x2="191.30" y2="566.70" stroke="#222" stroke-width="0.9"/>
<text x="186.6" y="569.2" font-size="7.0" text-anchor="end" fill="#2b2b2b" textLength="3.4" lengthAdjust="spacingAndGlyphs">3</text>
<line x1="188.30" y1="572.90" x2="191.30" y2="572.90" stroke="#222" stroke-width="0.9"/>
<text x="186.6" y="575.4" font-size="7.0" text-anchor="end" fill="#2b2b2b" textLength="3.4" lengthAdjust="spacingAndGlyphs">2</text>
<line x1="188.30" y1="579.10" x2="191.30" y2="579.10" stroke="#222" stroke-width="0.9"/>
<text x="186.6" y="581.6" font-size="7.0" text-anchor="end" fill="#2b2b2b" textLength="3.4" lengthAdjust="spacingAndGlyphs">1</text>
<line x1="188.30" y1="585.30" x2="191.30" y2="585.30" stroke="#222" stroke-width="0.9"/>
<text x="186.6" y="587.8" font-size="7.0" text-anchor="end" fill="#2b2b2b" textLength="3.4" lengthAdjust="spacingAndGlyphs">0</text>
<line x1="188.80" y1="548.80" x2="191.30" y2="548.80" stroke="#222" stroke-width="0.9"/>
<rect x="193.80" y="579.80" width="4.20" height="5.50" fill="#9a9aa8"/>
<rect x="200.80" y="584.30" width="4.20" height="1.00" fill="#acd9f5"/>
<rect x="207.50" y="580.50" width="4.30" height="4.80" fill="#a57aa8"/>
<rect x="219.50" y="546.50" width="4.30" height="2.30" fill="#9a9aa8"/>
<rect x="219.50" y="554.30" width="4.30" height="31.00" fill="#9a9aa8"/>
<rect x="226.30" y="581.80" width="4.00" height="3.50" fill="#acd9f5"/>
<rect x="233.00" y="546.50" width="4.30" height="2.30" fill="#a57aa8"/>
<rect x="233.00" y="554.30" width="4.30" height="31.00" fill="#a57aa8"/>
<rect x="245.10" y="532.50" width="4.60" height="16.30" fill="#9a9aa8"/>
<rect x="245.10" y="554.30" width="4.60" height="31.00" fill="#9a9aa8"/>
<rect x="252.60" y="536.50" width="4.60" height="12.30" fill="#acd9f5"/>
<rect x="252.60" y="554.30" width="4.60" height="31.00" fill="#acd9f5"/>
<rect x="259.70" y="535.50" width="4.60" height="13.30" fill="#a57aa8"/>
<rect x="259.70" y="554.30" width="4.60" height="31.00" fill="#a57aa8"/>
<rect x="270.80" y="543.60" width="4.70" height="5.20" fill="#9a9aa8"/>
<rect x="270.80" y="554.30" width="4.70" height="31.00" fill="#9a9aa8"/>
<rect x="278.10" y="537.50" width="4.90" height="11.30" fill="#acd9f5"/>
<rect x="278.10" y="554.30" width="4.90" height="31.00" fill="#acd9f5"/>
<rect x="285.00" y="541.60" width="4.70" height="7.20" fill="#a57aa8"/>
<rect x="285.00" y="554.30" width="4.70" height="31.00" fill="#a57aa8"/>
<line x1="191.30" y1="585.30" x2="293.80" y2="585.30" stroke="#222" stroke-width="1.3"/>
<line x1="203.00" y1="585.30" x2="203.00" y2="587.80" stroke="#222" stroke-width="0.9"/>
<line x1="228.30" y1="585.30" x2="228.30" y2="587.80" stroke="#222" stroke-width="0.9"/>
<line x1="254.90" y1="585.30" x2="254.90" y2="587.80" stroke="#222" stroke-width="0.9"/>
<line x1="280.50" y1="585.30" x2="280.50" y2="587.80" stroke="#222" stroke-width="0.9"/>
<circle cx="195.90" cy="578.00" r="1.3" fill="#2a3342"/>
<circle cx="195.90" cy="581.00" r="1.3" fill="#2a3342"/>
<circle cx="203.00" cy="584.50" r="1.3" fill="#2aa7de"/>
<path d="M209.60 575.70L210.90 578.04L208.30 578.04Z" fill="#4b1d55"/>
<path d="M209.60 579.70L210.90 582.04L208.30 582.04Z" fill="#4b1d55"/>
<circle cx="221.60" cy="544.00" r="1.3" fill="#2a3342"/>
<circle cx="221.60" cy="547.00" r="1.3" fill="#2a3342"/>
<circle cx="221.60" cy="573.00" r="1.3" fill="#2a3342"/>
<circle cx="228.30" cy="581.50" r="1.3" fill="#2aa7de"/>
<circle cx="229.50" cy="581.50" r="1.3" fill="#2aa7de"/>
<path d="M235.20 543.70L236.50 546.04L233.90 546.04Z" fill="#4b1d55"/>
<path d="M235.20 556.70L236.50 559.04L233.90 559.04Z" fill="#4b1d55"/>
<circle cx="247.40" cy="531.00" r="1.3" fill="#2a3342"/>
<circle cx="247.40" cy="534.00" r="1.3" fill="#2a3342"/>
<circle cx="254.90" cy="526.00" r="1.3" fill="#2aa7de"/>
<circle cx="254.90" cy="546.00" r="1.3" fill="#2aa7de"/>
<path d="M262.00 527.70L263.30 530.04L260.70 530.04Z" fill="#4b1d55"/>
<path d="M262.00 533.70L263.30 536.04L260.70 536.04Z" fill="#4b1d55"/>
<path d="M262.00 537.70L263.30 540.04L260.70 540.04Z" fill="#4b1d55"/>
<circle cx="273.10" cy="542.00" r="1.3" fill="#2a3342"/>
<circle cx="273.10" cy="545.00" r="1.3" fill="#2a3342"/>
<circle cx="280.50" cy="529.00" r="1.3" fill="#2aa7de"/>
<circle cx="280.50" cy="537.00" r="1.3" fill="#2aa7de"/>
<path d="M287.30 538.70L288.60 541.04L286.00 541.04Z" fill="#4b1d55"/>
<path d="M287.30 541.70L288.60 544.04L286.00 544.04Z" fill="#4b1d55"/>
<line x1="273.50" y1="517.80" x2="279.60" y2="517.80" stroke="#333" stroke-width="0.9"/>
<circle cx="276.55" cy="514.40" r="1.1" fill="#2a2a2a"/>
<text x="206.1" y="595.2" font-size="7.3" text-anchor="end" textLength="37" lengthAdjust="spacingAndGlyphs" transform="rotate(-45 206.1 595.2)" fill="#2b2b2b">Macrophage</text>
<text x="231.1" y="595.4" font-size="7.3" text-anchor="end" textLength="8.6" lengthAdjust="spacingAndGlyphs" transform="rotate(-45 231.1 595.4)" fill="#2b2b2b">DC</text>
<text x="257.7" y="595.2" font-size="7.3" text-anchor="end" textLength="29.5" lengthAdjust="spacingAndGlyphs" transform="rotate(-45 257.7 595.2)" fill="#2b2b2b">Monocyte</text>
<text x="283.9" y="595.0" font-size="7.3" text-anchor="end" textLength="31.5" lengthAdjust="spacingAndGlyphs" transform="rotate(-45 283.9 595.0)" fill="#2b2b2b">Neutrophil</text>
<text x="160.6" y="549.2" font-size="8.288000000000002" text-anchor="middle" textLength="34.3" lengthAdjust="spacingAndGlyphs" transform="rotate(-90 160.6 549.2)" fill="#2b2b2b">Freq (%) of</text>
<text x="171" y="551.3" font-size="8.288000000000002" text-anchor="middle" textLength="60" lengthAdjust="spacingAndGlyphs" transform="rotate(-90 171 551.3)" fill="#2b2b2b">total myeloid cells</text>
<circle cx="301.90" cy="548.70" r="1.8" fill="#2a3342"/>
<text x="307" y="551" font-size="7.4" textLength="10" lengthAdjust="spacingAndGlyphs" fill="#2b2b2b">WT</text>
<circle cx="301.90" cy="559.20" r="1.8" fill="#2aa7de"/>
<text x="307" y="561.5" font-size="7.4" fill="#2b2b2b">gp91<tspan font-size="4.59" dy="-2.66" fill="#5a5a5a">phox-/-</tspan></text>
<path d="M301.90 568.10L303.80 571.52L300.00 571.52Z" fill="#4b1d55"/>
<text x="307" y="571.8" font-size="7.4" fill="#2b2b2b">p47<tspan font-size="4.59" dy="-2.66" fill="#5a5a5a">phox-/-</tspan></text>
<text x="348.4" y="162.8" font-size="11.8" font-weight="bold" fill="#111">E</text>
<text x="399" y="164" font-size="9.0" text-anchor="middle" textLength="32.5" lengthAdjust="spacingAndGlyphs" fill="#2b2b2b" stroke="#2b2b2b" stroke-width="0.18">Baseline</text>
<line x1="376.70" y1="170.00" x2="376.70" y2="238.30" stroke="#222" stroke-width="1.35"/>
<line x1="373.70" y1="237.80" x2="376.70" y2="237.80" stroke="#222" stroke-width="0.9"/>
<text x="370.2" y="240.32000000000002" font-size="7.0" text-anchor="end" fill="#2b2b2b">0.0</text>
<line x1="373.70" y1="216.00" x2="376.70" y2="216.00" stroke="#222" stroke-width="0.9"/>
<text x="370.2" y="218.52" font-size="7.0" text-anchor="end" fill="#2b2b2b">0.5</text>
<line x1="373.70" y1="194.20" x2="376.70" y2="194.20" stroke="#222" stroke-width="0.9"/>
<text x="370.2" y="196.72000000000003" font-size="7.0" text-anchor="end" fill="#2b2b2b">1.0</text>
<line x1="373.70" y1="172.40" x2="376.70" y2="172.40" stroke="#222" stroke-width="0.9"/>
<text x="370.2" y="174.92000000000002" font-size="7.0" text-anchor="end" fill="#2b2b2b">1.5</text>
<rect x="381.70" y="215.00" width="7.50" height="22.80" fill="#9a9aa8"/>
<line x1="385.45" y1="212.00" x2="385.45" y2="215.00" stroke="#555" stroke-width="0.7"/>
<line x1="383.95" y1="212.00" x2="386.95" y2="212.00" stroke="#555" stroke-width="0.7"/>
<rect x="394.80" y="198.20" width="7.40" height="39.60" fill="#acd9f5"/>
<line x1="398.50" y1="192.00" x2="398.50" y2="198.20" stroke="#555" stroke-width="0.7"/>
<line x1="397.00" y1="192.00" x2="400.00" y2="192.00" stroke="#555" stroke-width="0.7"/>
<rect x="407.90" y="209.00" width="7.40" height="28.80" fill="#a57aa8"/>
<line x1="411.60" y1="203.00" x2="411.60" y2="209.00" stroke="#555" stroke-width="0.7"/>
<line x1="410.10" y1="203.00" x2="413.10" y2="203.00" stroke="#555" stroke-width="0.7"/>
<line x1="376.70" y1="237.80" x2="416.20" y2="237.80" stroke="#222" stroke-width="1.3"/>
<line x1="385.45" y1="237.80" x2="385.45" y2="240.60" stroke="#222" stroke-width="0.9"/>
<line x1="398.50" y1="237.80" x2="398.50" y2="240.60" stroke="#222" stroke-width="0.9"/>
<line x1="411.60" y1="237.80" x2="411.60" y2="240.60" stroke="#222" stroke-width="0.9"/>
<circle cx="383.60" cy="213.00" r="1.3" fill="#2a3342"/>
<circle cx="387.30" cy="213.00" r="1.3" fill="#2a3342"/>
<circle cx="385.50" cy="217.00" r="1.3" fill="#2a3342"/>
<circle cx="398.50" cy="190.50" r="1.3" fill="#2aa7de"/>
<circle cx="398.50" cy="199.00" r="1.3" fill="#2aa7de"/>
<circle cx="398.50" cy="205.00" r="1.3" fill="#2aa7de"/>
<path d="M411.60 200.20L412.90 202.54L410.30 202.54Z" fill="#4b1d55"/>
<path d="M411.60 210.70L412.90 213.04L410.30 213.04Z" fill="#4b1d55"/>
<path d="M411.60 219.70L412.90 222.04L410.30 222.04Z" fill="#4b1d55"/>
<text x="388.6" y="246.4" font-size="7.5" text-anchor="end" transform="rotate(-45 388.6 246.4)" fill="#2b2b2b">WT</text>
<text x="401.8" y="246.4" font-size="7.0" text-anchor="end" transform="rotate(-45 401.8 246.4)" fill="#2b2b2b">gp91<tspan font-size="4.76" dy="-2.52" fill="#5a5a5a">phox-/-</tspan></text>
<text x="414.9" y="246.4" font-size="7.0" text-anchor="end" transform="rotate(-45 414.9 246.4)" fill="#2b2b2b">p47<tspan font-size="4.76" dy="-2.52" fill="#5a5a5a">phox-/-</tspan></text>
<text x="355.8" y="203" font-size="8.512" text-anchor="middle" textLength="42.1" lengthAdjust="spacingAndGlyphs" transform="rotate(-90 355.8 203)" fill="#2b2b2b">IFN-γ (pg/mL)</text>
<text x="483.1" y="163.3" font-size="9.0" text-anchor="middle" textLength="16.5" lengthAdjust="spacingAndGlyphs" fill="#2b2b2b" stroke="#2b2b2b" stroke-width="0.18">DSS</text>
<line x1="461.60" y1="170.00" x2="461.60" y2="237.90" stroke="#222" stroke-width="1.35"/>
<line x1="458.60" y1="237.40" x2="461.60" y2="237.40" stroke="#222" stroke-width="0.9"/>
<text x="455" y="239.92000000000002" font-size="7.0" text-anchor="end" fill="#2b2b2b">0</text>
<line x1="458.60" y1="224.28" x2="461.60" y2="224.28" stroke="#222" stroke-width="0.9"/>
<text x="455" y="226.8" font-size="7.0" text-anchor="end" fill="#2b2b2b">2</text>
<line x1="458.60" y1="211.16" x2="461.60" y2="211.16" stroke="#222" stroke-width="0.9"/>
<text x="455" y="213.68" font-size="7.0" text-anchor="end" fill="#2b2b2b">4</text>
<line x1="458.60" y1="198.04" x2="461.60" y2="198.04" stroke="#222" stroke-width="0.9"/>
<text x="455" y="200.56000000000003" font-size="7.0" text-anchor="end" fill="#2b2b2b">6</text>
<line x1="458.60" y1="184.92" x2="461.60" y2="184.92" stroke="#222" stroke-width="0.9"/>
<text x="455" y="187.44000000000003" font-size="7.0" text-anchor="end" fill="#2b2b2b">8</text>
<line x1="458.60" y1="171.80" x2="461.60" y2="171.80" stroke="#222" stroke-width="0.9"/>
<text x="455" y="174.32000000000002" font-size="7.0" text-anchor="end" fill="#2b2b2b">10</text>
<rect x="466.20" y="233.70" width="7.60" height="3.70" fill="#9a9aa8" fill-opacity="0.88"/>
<line x1="470.00" y1="231.00" x2="470.00" y2="236.40" stroke="#555" stroke-width="0.7"/>
<line x1="468.50" y1="231.00" x2="471.50" y2="231.00" stroke="#555" stroke-width="0.7"/>
<rect x="479.30" y="217.10" width="7.60" height="20.30" fill="#acd9f5" fill-opacity="0.88"/>
<line x1="483.10" y1="197.00" x2="483.10" y2="237.20" stroke="#555" stroke-width="0.7"/>
<line x1="481.60" y1="197.00" x2="484.60" y2="197.00" stroke="#555" stroke-width="0.7"/>
<rect x="492.30" y="217.10" width="7.50" height="20.30" fill="#a57aa8" fill-opacity="0.88"/>
<line x1="496.05" y1="197.00" x2="496.05" y2="237.20" stroke="#555" stroke-width="0.7"/>
<line x1="494.55" y1="197.00" x2="497.55" y2="197.00" stroke="#555" stroke-width="0.7"/>
<line x1="461.60" y1="237.40" x2="504.20" y2="237.40" stroke="#222" stroke-width="1.3"/>
<line x1="470.00" y1="237.40" x2="470.00" y2="240.20" stroke="#222" stroke-width="0.9"/>
<line x1="483.10" y1="237.40" x2="483.10" y2="240.20" stroke="#222" stroke-width="0.9"/>
<line x1="496.05" y1="237.40" x2="496.05" y2="240.20" stroke="#222" stroke-width="0.9"/>
<circle cx="468.00" cy="231.50" r="1.3" fill="#2a3342"/>
<circle cx="472.00" cy="231.50" r="1.3" fill="#2a3342"/>
<circle cx="470.00" cy="235.00" r="1.3" fill="#2a3342"/>
<circle cx="483.10" cy="178.50" r="1.3" fill="#2aa7de"/>
<circle cx="483.10" cy="233.00" r="1.3" fill="#2aa7de"/>
<circle cx="485.00" cy="234.00" r="1.3" fill="#2aa7de"/>
<path d="M496.00 177.20L497.30 179.54L494.70 179.54Z" fill="#4b1d55"/>
<path d="M496.00 233.70L497.30 236.04L494.70 236.04Z" fill="#4b1d55"/>
<text x="473.2" y="246.0" font-size="7.5" text-anchor="end" transform="rotate(-45 473.2 246.0)" fill="#2b2b2b">WT</text>
<text x="486.4" y="246.0" font-size="7.0" text-anchor="end" transform="rotate(-45 486.4 246.0)" fill="#2b2b2b">gp91<tspan font-size="4.76" dy="-2.52" fill="#5a5a5a">phox-/-</tspan></text>
<text x="499.4" y="246.0" font-size="7.0" text-anchor="end" transform="rotate(-45 499.4 246.0)" fill="#2b2b2b">p47<tspan font-size="4.76" dy="-2.52" fill="#5a5a5a">phox-/-</tspan></text>
<text x="441" y="203.4" font-size="8.512" text-anchor="middle" textLength="41.5" lengthAdjust="spacingAndGlyphs" transform="rotate(-90 441 203.4)" fill="#2b2b2b">IFN-γ (pg/mL)</text>
<text x="399" y="284.3" font-size="9.0" text-anchor="middle" textLength="32.5" lengthAdjust="spacingAndGlyphs" fill="#2b2b2b" stroke="#2b2b2b" stroke-width="0.18">Baseline</text>
<line x1="376.70" y1="290.40" x2="376.70" y2="359.20" stroke="#222" stroke-width="1.35"/>
<line x1="373.70" y1="358.70" x2="376.70" y2="358.70" stroke="#222" stroke-width="0.9"/>
<text x="370.2" y="361.21999999999997" font-size="7.0" text-anchor="end" fill="#2b2b2b">0</text>
<line x1="373.70" y1="345.45" x2="376.70" y2="345.45" stroke="#222" stroke-width="0.9"/>
<text x="370.2" y="347.96999999999997" font-size="7.0" text-anchor="end" fill="#2b2b2b">5</text>
<line x1="373.70" y1="332.20" x2="376.70" y2="332.20" stroke="#222" stroke-width="0.9"/>
<text x="370.2" y="334.71999999999997" font-size="7.0" text-anchor="end" fill="#2b2b2b">10</text>
<line x1="373.70" y1="318.95" x2="376.70" y2="318.95" stroke="#222" stroke-width="0.9"/>
<text x="370.2" y="321.46999999999997" font-size="7.0" text-anchor="end" fill="#2b2b2b">15</text>
<line x1="373.70" y1="305.70" x2="376.70" y2="305.70" stroke="#222" stroke-width="0.9"/>
<text x="370.2" y="308.21999999999997" font-size="7.0" text-anchor="end" fill="#2b2b2b">20</text>
<line x1="373.70" y1="292.45" x2="376.70" y2="292.45" stroke="#222" stroke-width="0.9"/>
<text x="370.2" y="294.96999999999997" font-size="7.0" text-anchor="end" fill="#2b2b2b">25</text>
<rect x="381.70" y="334.40" width="7.50" height="24.30" fill="#9a9aa8"/>
<line x1="385.45" y1="331.00" x2="385.45" y2="334.40" stroke="#555" stroke-width="0.7"/>
<line x1="383.95" y1="331.00" x2="386.95" y2="331.00" stroke="#555" stroke-width="0.7"/>
<rect x="394.80" y="324.20" width="7.40" height="34.50" fill="#acd9f5"/>
<line x1="398.50" y1="322.50" x2="398.50" y2="324.20" stroke="#555" stroke-width="0.7"/>
<line x1="397.00" y1="322.50" x2="400.00" y2="322.50" stroke="#555" stroke-width="0.7"/>
<rect x="407.90" y="325.90" width="7.40" height="32.80" fill="#a57aa8"/>
<line x1="411.60" y1="323.00" x2="411.60" y2="325.90" stroke="#555" stroke-width="0.7"/>
<line x1="410.10" y1="323.00" x2="413.10" y2="323.00" stroke="#555" stroke-width="0.7"/>
<line x1="376.70" y1="358.70" x2="420.30" y2="358.70" stroke="#222" stroke-width="1.3"/>
<line x1="385.45" y1="358.70" x2="385.45" y2="361.50" stroke="#222" stroke-width="0.9"/>
<line x1="398.50" y1="358.70" x2="398.50" y2="361.50" stroke="#222" stroke-width="0.9"/>
<line x1="411.60" y1="358.70" x2="411.60" y2="361.50" stroke="#222" stroke-width="0.9"/>
<line x1="385.20" y1="301.50" x2="412.20" y2="301.50" stroke="#333" stroke-width="0.9"/>
<circle cx="398.70" cy="298.10" r="1.1" fill="#2a2a2a"/>
<line x1="385.20" y1="314.70" x2="399.00" y2="314.70" stroke="#333" stroke-width="0.9"/>
<circle cx="392.10" cy="311.30" r="1.1" fill="#2a2a2a"/>
<circle cx="383.50" cy="331.50" r="1.3" fill="#2a3342"/>
<circle cx="387.00" cy="332.50" r="1.3" fill="#2a3342"/>
<circle cx="385.50" cy="336.50" r="1.3" fill="#2a3342"/>
<circle cx="396.50" cy="322.50" r="1.3" fill="#2aa7de"/>
<circle cx="400.00" cy="324.00" r="1.3" fill="#2aa7de"/>
<path d="M411.60 321.20L412.90 323.54L410.30 323.54Z" fill="#4b1d55"/>
<path d="M411.60 325.70L412.90 328.04L410.30 328.04Z" fill="#4b1d55"/>
<text x="388.6" y="367.3" font-size="7.5" text-anchor="end" transform="rotate(-45 388.6 367.3)" fill="#2b2b2b">WT</text>
<text x="401.8" y="367.3" font-size="7.0" text-anchor="end" transform="rotate(-45 401.8 367.3)" fill="#2b2b2b">gp91<tspan font-size="4.76" dy="-2.52" fill="#5a5a5a">phox-/-</tspan></text>
<text x="414.9" y="367.3" font-size="7.0" text-anchor="end" transform="rotate(-45 414.9 367.3)" fill="#2b2b2b">p47<tspan font-size="4.76" dy="-2.52" fill="#5a5a5a">phox-/-</tspan></text>
<text x="357.4" y="324.2" font-size="8.512" text-anchor="middle" textLength="45.3" lengthAdjust="spacingAndGlyphs" transform="rotate(-90 357.4 324.2)" fill="#2b2b2b">TNF-α (pg/mL)</text>
<text x="483.1" y="284.3" font-size="9.0" text-anchor="middle" textLength="16.5" lengthAdjust="spacingAndGlyphs" fill="#2b2b2b" stroke="#2b2b2b" stroke-width="0.18">DSS</text>
<line x1="461.60" y1="290.40" x2="461.60" y2="359.20" stroke="#222" stroke-width="1.35"/>
<line x1="458.60" y1="358.70" x2="461.60" y2="358.70" stroke="#222" stroke-width="0.9"/>
<text x="455" y="361.21999999999997" font-size="7.0" text-anchor="end" fill="#2b2b2b">0</text>
<line x1="458.60" y1="347.65" x2="461.60" y2="347.65" stroke="#222" stroke-width="0.9"/>
<text x="455" y="350.16999999999996" font-size="7.0" text-anchor="end" fill="#2b2b2b">25</text>
<line x1="458.60" y1="336.60" x2="461.60" y2="336.60" stroke="#222" stroke-width="0.9"/>
<text x="455" y="339.11999999999995" font-size="7.0" text-anchor="end" fill="#2b2b2b">50</text>
<line x1="458.60" y1="325.55" x2="461.60" y2="325.55" stroke="#222" stroke-width="0.9"/>
<text x="455" y="328.07" font-size="7.0" text-anchor="end" fill="#2b2b2b">75</text>
<line x1="458.60" y1="314.50" x2="461.60" y2="314.50" stroke="#222" stroke-width="0.9"/>
<text x="455" y="317.02" font-size="7.0" text-anchor="end" fill="#2b2b2b">100</text>
<line x1="458.60" y1="303.45" x2="461.60" y2="303.45" stroke="#222" stroke-width="0.9"/>
<text x="455" y="305.96999999999997" font-size="7.0" text-anchor="end" fill="#2b2b2b">125</text>
<line x1="458.60" y1="292.40" x2="461.60" y2="292.40" stroke="#222" stroke-width="0.9"/>
<text x="455" y="294.91999999999996" font-size="7.0" text-anchor="end" fill="#2b2b2b">150</text>
<rect x="466.20" y="338.00" width="7.60" height="20.70" fill="#9a9aa8" fill-opacity="0.88"/>
<line x1="470.00" y1="323.00" x2="470.00" y2="353.00" stroke="#555" stroke-width="0.7"/>
<line x1="468.50" y1="323.00" x2="471.50" y2="323.00" stroke="#555" stroke-width="0.7"/>
<rect x="479.30" y="344.10" width="7.60" height="14.60" fill="#acd9f5" fill-opacity="0.88"/>
<line x1="483.10" y1="341.00" x2="483.10" y2="347.20" stroke="#555" stroke-width="0.7"/>
<line x1="481.60" y1="341.00" x2="484.60" y2="341.00" stroke="#555" stroke-width="0.7"/>
<rect x="492.30" y="340.00" width="7.50" height="18.70" fill="#a57aa8" fill-opacity="0.88"/>
<line x1="496.05" y1="335.00" x2="496.05" y2="345.00" stroke="#555" stroke-width="0.7"/>
<line x1="494.55" y1="335.00" x2="497.55" y2="335.00" stroke="#555" stroke-width="0.7"/>
<line x1="461.60" y1="358.70" x2="504.20" y2="358.70" stroke="#222" stroke-width="1.3"/>
<line x1="470.00" y1="358.70" x2="470.00" y2="361.50" stroke="#222" stroke-width="0.9"/>
<line x1="483.10" y1="358.70" x2="483.10" y2="361.50" stroke="#222" stroke-width="0.9"/>
<line x1="496.05" y1="358.70" x2="496.05" y2="361.50" stroke="#222" stroke-width="0.9"/>
<circle cx="470.00" cy="309.00" r="1.3" fill="#2a3342"/>
<circle cx="468.00" cy="351.50" r="1.3" fill="#2a3342"/>
<circle cx="472.00" cy="351.50" r="1.3" fill="#2a3342"/>
<circle cx="481.00" cy="342.50" r="1.3" fill="#2aa7de"/>
<circle cx="485.00" cy="342.50" r="1.3" fill="#2aa7de"/>
<path d="M494.00 334.70L495.30 337.04L492.70 337.04Z" fill="#4b1d55"/>
<path d="M498.00 334.70L499.30 337.04L496.70 337.04Z" fill="#4b1d55"/>
<path d="M496.00 342.70L497.30 345.04L494.70 345.04Z" fill="#4b1d55"/>
<text x="473.2" y="367.3" font-size="7.5" text-anchor="end" transform="rotate(-45 473.2 367.3)" fill="#2b2b2b">WT</text>
<text x="486.4" y="367.3" font-size="7.0" text-anchor="end" transform="rotate(-45 486.4 367.3)" fill="#2b2b2b">gp91<tspan font-size="4.76" dy="-2.52" fill="#5a5a5a">phox-/-</tspan></text>
<text x="499.4" y="367.3" font-size="7.0" text-anchor="end" transform="rotate(-45 499.4 367.3)" fill="#2b2b2b">p47<tspan font-size="4.76" dy="-2.52" fill="#5a5a5a">phox-/-</tspan></text>
<text x="438" y="324.4" font-size="8.512" text-anchor="middle" textLength="44.8" lengthAdjust="spacingAndGlyphs" transform="rotate(-90 438 324.4)" fill="#2b2b2b">TNF-α (pg/mL)</text>
<text x="399" y="405.3" font-size="9.0" text-anchor="middle" textLength="32.5" lengthAdjust="spacingAndGlyphs" fill="#2b2b2b" stroke="#2b2b2b" stroke-width="0.18">Baseline</text>
<line x1="376.70" y1="411.40" x2="376.70" y2="479.80" stroke="#222" stroke-width="1.35"/>
<line x1="373.70" y1="479.30" x2="376.70" y2="479.30" stroke="#222" stroke-width="0.9"/>
<text x="370.2" y="481.82" font-size="7.0" text-anchor="end" fill="#2b2b2b">0.0</text>
<line x1="373.70" y1="462.82" x2="376.70" y2="462.82" stroke="#222" stroke-width="0.9"/>
<text x="370.2" y="465.34499999999997" font-size="7.0" text-anchor="end" fill="#2b2b2b">0.5</text>
<line x1="373.70" y1="446.35" x2="376.70" y2="446.35" stroke="#222" stroke-width="0.9"/>
<text x="370.2" y="448.87" font-size="7.0" text-anchor="end" fill="#2b2b2b">1.0</text>
<line x1="373.70" y1="429.88" x2="376.70" y2="429.88" stroke="#222" stroke-width="0.9"/>
<text x="370.2" y="432.395" font-size="7.0" text-anchor="end" fill="#2b2b2b">1.5</text>
<line x1="373.70" y1="413.40" x2="376.70" y2="413.40" stroke="#222" stroke-width="0.9"/>
<text x="370.2" y="415.91999999999996" font-size="7.0" text-anchor="end" fill="#2b2b2b">2.0</text>
<rect x="381.70" y="458.40" width="7.50" height="20.90" fill="#9a9aa8"/>
<line x1="385.45" y1="455.00" x2="385.45" y2="458.40" stroke="#555" stroke-width="0.7"/>
<line x1="383.95" y1="455.00" x2="386.95" y2="455.00" stroke="#555" stroke-width="0.7"/>
<rect x="394.80" y="439.40" width="7.40" height="39.90" fill="#acd9f5"/>
<line x1="398.50" y1="433.00" x2="398.50" y2="439.40" stroke="#555" stroke-width="0.7"/>
<line x1="397.00" y1="433.00" x2="400.00" y2="433.00" stroke="#555" stroke-width="0.7"/>
<rect x="407.90" y="460.00" width="7.40" height="19.30" fill="#a57aa8"/>
<line x1="411.60" y1="459.00" x2="411.60" y2="460.00" stroke="#555" stroke-width="0.7"/>
<line x1="410.10" y1="459.00" x2="413.10" y2="459.00" stroke="#555" stroke-width="0.7"/>
<line x1="376.70" y1="479.30" x2="420.30" y2="479.30" stroke="#222" stroke-width="1.3"/>
<line x1="385.45" y1="479.30" x2="385.45" y2="482.10" stroke="#222" stroke-width="0.9"/>
<line x1="398.50" y1="479.30" x2="398.50" y2="482.10" stroke="#222" stroke-width="0.9"/>
<line x1="411.60" y1="479.30" x2="411.60" y2="482.10" stroke="#222" stroke-width="0.9"/>
<line x1="385.20" y1="423.10" x2="398.60" y2="423.10" stroke="#333" stroke-width="0.9"/>
<circle cx="390.45" cy="419.70" r="1.1" fill="#2a2a2a"/>
<circle cx="393.35" cy="419.70" r="1.1" fill="#2a2a2a"/>
<line x1="400.60" y1="426.60" x2="412.20" y2="426.60" stroke="#333" stroke-width="0.9"/>
<circle cx="404.95" cy="423.20" r="1.1" fill="#2a2a2a"/>
<circle cx="407.85" cy="423.20" r="1.1" fill="#2a2a2a"/>
<path d="M385.50 453.70L386.80 456.04L384.20 456.04Z" fill="#2a3342"/>
<circle cx="385.50" cy="459.50" r="1.3" fill="#2a3342"/>
<circle cx="385.50" cy="462.00" r="1.3" fill="#2a3342"/>
<circle cx="398.50" cy="431.00" r="1.3" fill="#2aa7de"/>
<circle cx="398.50" cy="440.00" r="1.3" fill="#2aa7de"/>
<circle cx="398.50" cy="446.00" r="1.3" fill="#2aa7de"/>
<path d="M409.50 458.20L410.80 460.54L408.20 460.54Z" fill="#4b1d55"/>
<path d="M413.50 458.20L414.80 460.54L412.20 460.54Z" fill="#4b1d55"/>
<text x="388.6" y="487.9" font-size="7.5" text-anchor="end" transform="rotate(-45 388.6 487.9)" fill="#2b2b2b">WT</text>
<text x="401.8" y="487.9" font-size="7.0" text-anchor="end" transform="rotate(-45 401.8 487.9)" fill="#2b2b2b">gp91<tspan font-size="4.76" dy="-2.52" fill="#5a5a5a">phox-/-</tspan></text>
<text x="414.9" y="487.9" font-size="7.0" text-anchor="end" transform="rotate(-45 414.9 487.9)" fill="#2b2b2b">p47<tspan font-size="4.76" dy="-2.52" fill="#5a5a5a">phox-/-</tspan></text>
<text x="355.3" y="445.5" font-size="8.512" text-anchor="middle" textLength="37.2" lengthAdjust="spacingAndGlyphs" transform="rotate(-90 355.3 445.5)" fill="#2b2b2b">IL-2 (pg/mL)</text>
<text x="483.1" y="405.3" font-size="9.0" text-anchor="middle" textLength="16.5" lengthAdjust="spacingAndGlyphs" fill="#2b2b2b" stroke="#2b2b2b" stroke-width="0.18">DSS</text>
<line x1="461.60" y1="411.40" x2="461.60" y2="479.80" stroke="#222" stroke-width="1.35"/>
<line x1="458.60" y1="479.30" x2="461.60" y2="479.30" stroke="#222" stroke-width="0.9"/>
<text x="455" y="481.82" font-size="7.0" text-anchor="end" fill="#2b2b2b">0.0</text>
<line x1="458.60" y1="462.82" x2="461.60" y2="462.82" stroke="#222" stroke-width="0.9"/>
<text x="455" y="465.34499999999997" font-size="7.0" text-anchor="end" fill="#2b2b2b">0.5</text>
<line x1="458.60" y1="446.35" x2="461.60" y2="446.35" stroke="#222" stroke-width="0.9"/>
<text x="455" y="448.87" font-size="7.0" text-anchor="end" fill="#2b2b2b">1.0</text>
<line x1="458.60" y1="429.88" x2="461.60" y2="429.88" stroke="#222" stroke-width="0.9"/>
<text x="455" y="432.395" font-size="7.0" text-anchor="end" fill="#2b2b2b">1.5</text>
<line x1="458.60" y1="413.40" x2="461.60" y2="413.40" stroke="#222" stroke-width="0.9"/>
<text x="455" y="415.91999999999996" font-size="7.0" text-anchor="end" fill="#2b2b2b">2.0</text>
<rect x="466.20" y="466.50" width="7.60" height="12.80" fill="#9a9aa8" fill-opacity="0.88"/>
<line x1="470.00" y1="462.50" x2="470.00" y2="470.50" stroke="#555" stroke-width="0.7"/>
<line x1="468.50" y1="462.50" x2="471.50" y2="462.50" stroke="#555" stroke-width="0.7"/>
<rect x="479.30" y="461.70" width="7.60" height="17.60" fill="#acd9f5" fill-opacity="0.88"/>
<line x1="483.10" y1="461.00" x2="483.10" y2="462.40" stroke="#555" stroke-width="0.7"/>
<line x1="481.60" y1="461.00" x2="484.60" y2="461.00" stroke="#555" stroke-width="0.7"/>
<rect x="492.30" y="456.40" width="7.50" height="22.90" fill="#a57aa8" fill-opacity="0.88"/>
<line x1="496.05" y1="447.50" x2="496.05" y2="465.30" stroke="#555" stroke-width="0.7"/>
<line x1="494.55" y1="447.50" x2="497.55" y2="447.50" stroke="#555" stroke-width="0.7"/>
<line x1="461.60" y1="479.30" x2="504.20" y2="479.30" stroke="#222" stroke-width="1.3"/>
<line x1="470.00" y1="479.30" x2="470.00" y2="482.10" stroke="#222" stroke-width="0.9"/>
<line x1="483.10" y1="479.30" x2="483.10" y2="482.10" stroke="#222" stroke-width="0.9"/>
<line x1="496.05" y1="479.30" x2="496.05" y2="482.10" stroke="#222" stroke-width="0.9"/>
<circle cx="470.00" cy="463.50" r="1.3" fill="#2a3342"/>
<circle cx="470.00" cy="467.50" r="1.3" fill="#2a3342"/>
<circle cx="470.00" cy="471.00" r="1.3" fill="#2a3342"/>
<circle cx="481.00" cy="460.50" r="1.3" fill="#2aa7de"/>
<circle cx="485.00" cy="460.50" r="1.3" fill="#2aa7de"/>
<circle cx="483.00" cy="463.00" r="1.3" fill="#2aa7de"/>
<path d="M496.00 438.70L497.30 441.04L494.70 441.04Z" fill="#4b1d55"/>
<path d="M494.00 456.70L495.30 459.04L492.70 459.04Z" fill="#4b1d55"/>
<path d="M498.00 454.70L499.30 457.04L496.70 457.04Z" fill="#4b1d55"/>
<text x="473.2" y="487.9" font-size="7.5" text-anchor="end" transform="rotate(-45 473.2 487.9)" fill="#2b2b2b">WT</text>
<text x="486.4" y="487.9" font-size="7.0" text-anchor="end" transform="rotate(-45 486.4 487.9)" fill="#2b2b2b">gp91<tspan font-size="4.76" dy="-2.52" fill="#5a5a5a">phox-/-</tspan></text>
<text x="499.4" y="487.9" font-size="7.0" text-anchor="end" transform="rotate(-45 499.4 487.9)" fill="#2b2b2b">p47<tspan font-size="4.76" dy="-2.52" fill="#5a5a5a">phox-/-</tspan></text>
<text x="439.7" y="445.5" font-size="8.512" text-anchor="middle" textLength="37.2" lengthAdjust="spacingAndGlyphs" transform="rotate(-90 439.7 445.5)" fill="#2b2b2b">IL-2 (pg/mL)</text>
<text x="399" y="526.2" font-size="9.0" text-anchor="middle" textLength="32.5" lengthAdjust="spacingAndGlyphs" fill="#2b2b2b" stroke="#2b2b2b" stroke-width="0.18">Baseline</text>
<line x1="376.20" y1="532.60" x2="376.20" y2="601.00" stroke="#222" stroke-width="1.35"/>
<line x1="373.20" y1="600.50" x2="376.20" y2="600.50" stroke="#222" stroke-width="0.9"/>
<text x="370" y="603.02" font-size="7.0" text-anchor="end" fill="#2b2b2b">0</text>
<line x1="373.20" y1="587.35" x2="376.20" y2="587.35" stroke="#222" stroke-width="0.9"/>
<text x="370" y="589.87" font-size="7.0" text-anchor="end" fill="#2b2b2b">5</text>
<line x1="373.20" y1="574.20" x2="376.20" y2="574.20" stroke="#222" stroke-width="0.9"/>
<text x="370" y="576.72" font-size="7.0" text-anchor="end" fill="#2b2b2b">10</text>
<line x1="373.20" y1="561.05" x2="376.20" y2="561.05" stroke="#222" stroke-width="0.9"/>
<text x="370" y="563.5699999999999" font-size="7.0" text-anchor="end" fill="#2b2b2b">15</text>
<line x1="373.20" y1="547.90" x2="376.20" y2="547.90" stroke="#222" stroke-width="0.9"/>
<text x="370" y="550.42" font-size="7.0" text-anchor="end" fill="#2b2b2b">20</text>
<line x1="373.20" y1="534.75" x2="376.20" y2="534.75" stroke="#222" stroke-width="0.9"/>
<text x="370" y="537.27" font-size="7.0" text-anchor="end" fill="#2b2b2b">25</text>
<rect x="381.70" y="576.80" width="7.50" height="23.70" fill="#9a9aa8"/>
<line x1="385.45" y1="574.00" x2="385.45" y2="576.80" stroke="#555" stroke-width="0.7"/>
<line x1="383.95" y1="574.00" x2="386.95" y2="574.00" stroke="#555" stroke-width="0.7"/>
<rect x="394.80" y="565.50" width="7.40" height="35.00" fill="#acd9f5"/>
<line x1="398.50" y1="563.00" x2="398.50" y2="565.50" stroke="#555" stroke-width="0.7"/>
<line x1="397.00" y1="563.00" x2="400.00" y2="563.00" stroke="#555" stroke-width="0.7"/>
<rect x="407.90" y="575.70" width="7.40" height="24.80" fill="#a57aa8"/>
<line x1="411.60" y1="564.00" x2="411.60" y2="575.70" stroke="#555" stroke-width="0.7"/>
<line x1="410.10" y1="564.00" x2="413.10" y2="564.00" stroke="#555" stroke-width="0.7"/>
<line x1="376.20" y1="600.50" x2="420.20" y2="600.50" stroke="#222" stroke-width="1.3"/>
<line x1="385.45" y1="600.50" x2="385.45" y2="603.30" stroke="#222" stroke-width="0.9"/>
<line x1="398.50" y1="600.50" x2="398.50" y2="603.30" stroke="#222" stroke-width="0.9"/>
<line x1="411.60" y1="600.50" x2="411.60" y2="603.30" stroke="#222" stroke-width="0.9"/>
<circle cx="383.50" cy="574.50" r="1.3" fill="#2a3342"/>
<circle cx="387.50" cy="575.50" r="1.3" fill="#2a3342"/>
<circle cx="385.50" cy="580.00" r="1.3" fill="#2a3342"/>
<circle cx="398.50" cy="562.50" r="1.3" fill="#2aa7de"/>
<circle cx="398.50" cy="566.00" r="1.3" fill="#2aa7de"/>
<path d="M411.60 556.70L412.90 559.04L410.30 559.04Z" fill="#4b1d55"/>
<path d="M411.60 578.20L412.90 580.54L410.30 580.54Z" fill="#4b1d55"/>
<path d="M411.60 592.70L412.90 595.04L410.30 595.04Z" fill="#4b1d55"/>
<text x="388.6" y="609.1" font-size="7.5" text-anchor="end" transform="rotate(-45 388.6 609.1)" fill="#2b2b2b">WT</text>
<text x="401.8" y="609.1" font-size="7.0" text-anchor="end" transform="rotate(-45 401.8 609.1)" fill="#2b2b2b">gp91<tspan font-size="4.76" dy="-2.52" fill="#5a5a5a">phox-/-</tspan></text>
<text x="414.9" y="609.1" font-size="7.0" text-anchor="end" transform="rotate(-45 414.9 609.1)" fill="#2b2b2b">p47<tspan font-size="4.76" dy="-2.52" fill="#5a5a5a">phox-/-</tspan></text>
<text x="357.3" y="566.4" font-size="8.512" text-anchor="middle" textLength="42.1" lengthAdjust="spacingAndGlyphs" transform="rotate(-90 357.3 566.4)" fill="#2b2b2b">IL-10 (pg/mL)</text>
<text x="483.1" y="526.2" font-size="9.0" text-anchor="middle" textLength="16.5" lengthAdjust="spacingAndGlyphs" fill="#2b2b2b" stroke="#2b2b2b" stroke-width="0.18">DSS</text>
<line x1="460.60" y1="532.60" x2="460.60" y2="565.20" stroke="#222" stroke-width="1.35"/>
<line x1="460.60" y1="569.80" x2="460.60" y2="601.00" stroke="#222" stroke-width="1.35"/>
<line x1="457.60" y1="534.90" x2="460.60" y2="534.90" stroke="#222" stroke-width="0.9"/>
<text x="455.2" y="537.4" font-size="7.0" text-anchor="end" fill="#2b2b2b">1500</text>
<line x1="457.60" y1="545.60" x2="460.60" y2="545.60" stroke="#222" stroke-width="0.9"/>
<text x="455.2" y="548.1" font-size="7.0" text-anchor="end" fill="#2b2b2b">1000</text>
<line x1="457.60" y1="556.90" x2="460.60" y2="556.90" stroke="#222" stroke-width="0.9"/>
<text x="455.2" y="559.4" font-size="7.0" text-anchor="end" fill="#2b2b2b">500</text>
<line x1="457.60" y1="570.30" x2="460.60" y2="570.30" stroke="#222" stroke-width="0.9"/>
<text x="455.2" y="572.8" font-size="7.0" text-anchor="end" fill="#2b2b2b">100</text>
<line x1="457.60" y1="577.80" x2="460.60" y2="577.80" stroke="#222" stroke-width="0.9"/>
<text x="455.2" y="580.3" font-size="7.0" text-anchor="end" fill="#2b2b2b">75</text>
<line x1="457.60" y1="585.40" x2="460.60" y2="585.40" stroke="#222" stroke-width="0.9"/>
<text x="455.2" y="587.9" font-size="7.0" text-anchor="end" fill="#2b2b2b">50</text>
<line x1="457.60" y1="593.10" x2="460.60" y2="593.10" stroke="#222" stroke-width="0.9"/>
<text x="455.2" y="595.6" font-size="7.0" text-anchor="end" fill="#2b2b2b">25</text>
<line x1="457.60" y1="600.60" x2="460.60" y2="600.60" stroke="#222" stroke-width="0.9"/>
<text x="455.2" y="603.1" font-size="7.0" text-anchor="end" fill="#2b2b2b">0</text>
<line x1="458.10" y1="565.20" x2="460.60" y2="565.20" stroke="#222" stroke-width="0.9"/>
<rect x="466.20" y="563.80" width="7.60" height="1.40" fill="#9a9aa8" fill-opacity="0.9"/>
<rect x="466.20" y="570.30" width="7.60" height="30.20" fill="#9a9aa8" fill-opacity="0.95"/>
<line x1="469.90" y1="570.30" x2="469.90" y2="600.00" stroke="#6a6a78" stroke-width="0.7"/>
<line x1="469.90" y1="560.00" x2="469.90" y2="563.50" stroke="#555" stroke-width="0.7"/>
<line x1="468.40" y1="560.00" x2="471.40" y2="560.00" stroke="#555" stroke-width="0.7"/>
<rect x="479.30" y="593.70" width="7.60" height="6.80" fill="#acd9f5" fill-opacity="0.75"/>
<rect x="492.30" y="579.70" width="7.60" height="20.80" fill="#a57aa8" fill-opacity="0.85"/>
<line x1="496.10" y1="577.00" x2="496.10" y2="579.70" stroke="#555" stroke-width="0.7"/>
<line x1="494.60" y1="577.00" x2="497.60" y2="577.00" stroke="#555" stroke-width="0.7"/>
<line x1="483.10" y1="590.00" x2="483.10" y2="593.70" stroke="#555" stroke-width="0.7"/>
<line x1="481.60" y1="590.00" x2="484.60" y2="590.00" stroke="#555" stroke-width="0.7"/>
<line x1="460.60" y1="600.50" x2="504.00" y2="600.50" stroke="#222" stroke-width="1.3"/>
<line x1="469.90" y1="600.50" x2="469.90" y2="603.30" stroke="#222" stroke-width="0.9"/>
<line x1="483.10" y1="600.50" x2="483.10" y2="603.30" stroke="#222" stroke-width="0.9"/>
<line x1="496.10" y1="600.50" x2="496.10" y2="603.30" stroke="#222" stroke-width="0.9"/>
<circle cx="470.00" cy="557.00" r="1.3" fill="#2a3342"/>
<circle cx="468.00" cy="598.00" r="1.3" fill="#2a3342"/>
<circle cx="472.00" cy="598.00" r="1.3" fill="#2a3342"/>
<circle cx="483.10" cy="588.50" r="1.3" fill="#2aa7de"/>
<circle cx="483.10" cy="593.00" r="1.3" fill="#2aa7de"/>
<circle cx="483.10" cy="596.00" r="1.3" fill="#2aa7de"/>
<path d="M494.00 576.20L495.30 578.54L492.70 578.54Z" fill="#4b1d55"/>
<path d="M498.00 576.20L499.30 578.54L496.70 578.54Z" fill="#4b1d55"/>
<path d="M496.00 580.70L497.30 583.04L494.70 583.04Z" fill="#4b1d55"/>
<text x="473.1" y="609.1" font-size="7.5" text-anchor="end" transform="rotate(-45 473.1 609.1)" fill="#2b2b2b">WT</text>
<text x="486.4" y="609.1" font-size="7.0" text-anchor="end" transform="rotate(-45 486.4 609.1)" fill="#2b2b2b">gp91<tspan font-size="4.76" dy="-2.52" fill="#5a5a5a">phox-/-</tspan></text>
<text x="499.4" y="609.1" font-size="7.0" text-anchor="end" transform="rotate(-45 499.4 609.1)" fill="#2b2b2b">p47<tspan font-size="4.76" dy="-2.52" fill="#5a5a5a">phox-/-</tspan></text>
<text x="434.6" y="566.4" font-size="8.512" text-anchor="middle" textLength="42.1" lengthAdjust="spacingAndGlyphs" transform="rotate(-90 434.6 566.4)" fill="#2b2b2b">IL-10 (pg/mL)</text>
<rect x="0" y="0" width="520" height="1" fill="#464646"/>
<rect x="0" y="0" width="1" height="641" fill="#464646"/>
<rect x="519" y="0" width="1" height="641" fill="#464646"/>
<rect x="0" y="640" width="520" height="1" fill="#464646"/>
</svg>
</body></html>
